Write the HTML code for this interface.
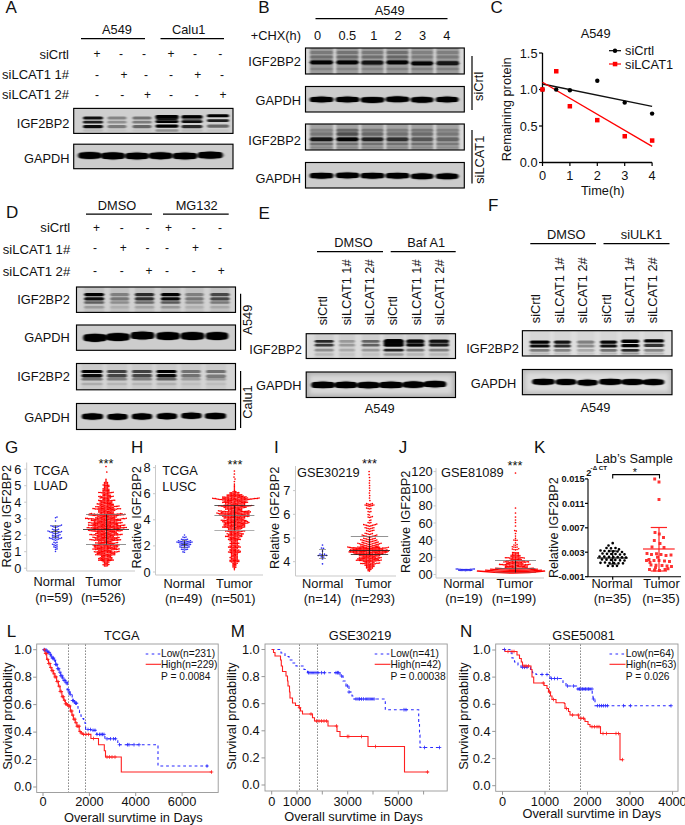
<!DOCTYPE html>
<html lang="en"><head><meta charset="utf-8"><title>Figure</title>
<style>
html,body{margin:0;padding:0;background:#fff;}
body{width:685px;height:825px;overflow:hidden;}
svg{display:block;font-family:"Liberation Sans",Arial,Helvetica,sans-serif;font-size:12.8px;fill:#111;}
</style></head><body>
<svg width="685" height="825" viewBox="0 0 685 825">
<defs>
<filter id="b1" x="-5%" y="-30%" width="110%" height="160%"><feGaussianBlur stdDeviation="1.2 0.72"/></filter>
<filter id="b2" x="-5%" y="-30%" width="110%" height="160%"><feGaussianBlur stdDeviation="2.2"/></filter>
</defs>
<rect width="685" height="825" fill="#fff"/>
<text x="5.5" y="13" font-size="17">A</text>
<text x="258.2" y="13" font-size="17">B</text>
<text x="490.5" y="13" font-size="17">C</text>
<text x="6" y="218.3" font-size="17">D</text>
<text x="258.4" y="218.7" font-size="17">E</text>
<text x="488" y="211" font-size="17">F</text>
<text x="5" y="453" font-size="17">G</text>
<text x="131" y="452.5" font-size="17">H</text>
<text x="274" y="452.5" font-size="17">I</text>
<text x="398.7" y="452.5" font-size="17">J</text>
<text x="534" y="452.5" font-size="17">K</text>
<text x="6.7" y="636.5" font-size="17">L</text>
<text x="230.7" y="636.5" font-size="17">M</text>
<text x="460" y="636.5" font-size="17">N</text>
<text x="117" y="34" text-anchor="middle">A549</text>
<text x="188.7" y="34" text-anchor="middle">Calu1</text>
<line x1="81" y1="38.7" x2="145" y2="38.7" stroke="#000" stroke-width="1.2"/>
<line x1="160.5" y1="38.7" x2="224" y2="38.7" stroke="#000" stroke-width="1.2"/>
<text x="69" y="59" text-anchor="end" font-size="13">siCrtl</text>
<text x="69" y="79" text-anchor="end" font-size="13">siLCAT1 1#</text>
<text x="69" y="99" text-anchor="end" font-size="13">siLCAT1 2#</text>
<text x="97" y="58.4" text-anchor="middle" font-size="12">+</text>
<text x="121.1" y="58.4" text-anchor="middle" font-size="12">-</text>
<text x="144.1" y="58.4" text-anchor="middle" font-size="12">-</text>
<text x="171" y="58.4" text-anchor="middle" font-size="12">+</text>
<text x="195.1" y="58.4" text-anchor="middle" font-size="12">-</text>
<text x="220.3" y="58.4" text-anchor="middle" font-size="12">-</text>
<text x="97" y="78.8" text-anchor="middle" font-size="12">-</text>
<text x="124" y="78.8" text-anchor="middle" font-size="12">+</text>
<text x="145.9" y="78.8" text-anchor="middle" font-size="12">-</text>
<text x="171" y="78.8" text-anchor="middle" font-size="12">-</text>
<text x="197.8" y="78.8" text-anchor="middle" font-size="12">+</text>
<text x="221.9" y="78.8" text-anchor="middle" font-size="12">-</text>
<text x="97" y="98.6" text-anchor="middle" font-size="12">-</text>
<text x="122.2" y="98.6" text-anchor="middle" font-size="12">-</text>
<text x="147.4" y="98.6" text-anchor="middle" font-size="12">+</text>
<text x="171" y="98.6" text-anchor="middle" font-size="12">-</text>
<text x="196.7" y="98.6" text-anchor="middle" font-size="12">-</text>
<text x="223" y="98.6" text-anchor="middle" font-size="12">+</text>
<text x="69.5" y="128" text-anchor="end">IGF2BP2</text>
<text x="69.5" y="163" text-anchor="end">GAPDH</text>
<clipPath id="c1"><rect x="73.7" y="108.4" width="159.3" height="25"/></clipPath>
<rect x="73.7" y="108.4" width="159.3" height="25" fill="#cfcfcf"/>
<g clip-path="url(#c1)">
<g filter="url(#b1)">
<rect x="83" y="116.5" width="20" height="3" rx="1.5" fill="#000" opacity="0.92"/>
<rect x="107.5" y="116.5" width="19" height="3" rx="1.5" fill="#000" opacity="0.36"/>
<rect x="132.5" y="116.5" width="19" height="3" rx="1.5" fill="#000" opacity="0.45"/>
<rect x="155.5" y="115" width="23" height="3" rx="1.5" fill="#000" opacity="1.00"/>
<rect x="181.5" y="115.3" width="21" height="3" rx="1.5" fill="#000" opacity="1.00"/>
<rect x="207" y="114.3" width="22" height="3" rx="1.5" fill="#000" opacity="1.00"/>
<rect x="83" y="120.8" width="20" height="2.7" rx="1.4" fill="#000" opacity="0.85"/>
<rect x="107.5" y="120.8" width="19" height="2.7" rx="1.4" fill="#000" opacity="0.30"/>
<rect x="132.5" y="120.8" width="19" height="2.7" rx="1.4" fill="#000" opacity="0.40"/>
<rect x="155.5" y="120.2" width="23" height="2.7" rx="1.4" fill="#000" opacity="1.00"/>
<rect x="181.5" y="120.2" width="21" height="2.7" rx="1.4" fill="#000" opacity="0.95"/>
<rect x="207" y="119.2" width="22" height="2.7" rx="1.4" fill="#000" opacity="0.85"/>
<rect x="83" y="125" width="20" height="3.2" rx="1.6" fill="#000" opacity="0.95"/>
<rect x="107.5" y="125" width="19" height="3.2" rx="1.6" fill="#000" opacity="0.40"/>
<rect x="132.5" y="125" width="19" height="3.2" rx="1.6" fill="#000" opacity="0.50"/>
<rect x="155.5" y="124.5" width="23" height="3.2" rx="1.6" fill="#000" opacity="1.00"/>
<rect x="181.5" y="125" width="21" height="3.2" rx="1.6" fill="#000" opacity="0.80"/>
<rect x="207" y="124.5" width="22" height="3.2" rx="1.6" fill="#000" opacity="0.50"/>
<rect x="155.5" y="115" width="23" height="5" rx="2.5" fill="#000" opacity="0.90"/>
<rect x="181.5" y="115" width="21" height="5" rx="2.5" fill="#000" opacity="0.50"/>
<rect x="83" y="129.2" width="20" height="2.5" rx="1.2" fill="#000" opacity="0.10"/>
<rect x="107.5" y="129.2" width="19" height="2.5" rx="1.2" fill="#000" opacity="0.05"/>
<rect x="132.5" y="129.2" width="19" height="2.5" rx="1.2" fill="#000" opacity="0.05"/>
<rect x="155.5" y="129.2" width="23" height="2.5" rx="1.2" fill="#000" opacity="0.30"/>
<rect x="181.5" y="129.2" width="21" height="2.5" rx="1.2" fill="#000" opacity="0.10"/>
<rect x="207" y="129.2" width="22" height="2.5" rx="1.2" fill="#000" opacity="0.05"/>
</g></g>
<rect x="73.7" y="108.4" width="159.3" height="25" fill="none" stroke="#000" stroke-width="1.15"/>
<clipPath id="c2"><rect x="73.7" y="144.2" width="159.3" height="24.5"/></clipPath>
<rect x="73.7" y="144.2" width="159.3" height="24.5" fill="#cdcdcd"/>
<g clip-path="url(#c2)">
<g filter="url(#b1)">
<rect x="78.4" y="152.4" width="22.9" height="6.1" rx="3" fill="#000" opacity="1.00"/>
<rect x="101.4" y="152.8" width="23.3" height="6.1" rx="3" fill="#000" opacity="1.00"/>
<rect x="125.4" y="152.9" width="23.3" height="6.1" rx="3" fill="#000" opacity="1.00"/>
<rect x="149" y="152.7" width="23.3" height="6.1" rx="3" fill="#000" opacity="1.00"/>
<rect x="172.9" y="152.9" width="24.2" height="6.1" rx="3" fill="#000" opacity="1.00"/>
<rect x="197.9" y="152.1" width="24.7" height="6.1" rx="3" fill="#000" opacity="1.00"/>
<ellipse cx="89.8" cy="155.5" rx="10.6" ry="3.6" fill="#000" opacity="1.00"/>
<ellipse cx="113" cy="155.9" rx="10.8" ry="3.6" fill="#000" opacity="1.00"/>
<ellipse cx="137" cy="156" rx="10.8" ry="3.6" fill="#000" opacity="1.00"/>
<ellipse cx="160.6" cy="155.8" rx="10.8" ry="3.6" fill="#000" opacity="1.00"/>
<ellipse cx="185" cy="156" rx="11.2" ry="3.6" fill="#000" opacity="1.00"/>
<ellipse cx="210.3" cy="155.2" rx="11.4" ry="3.6" fill="#000" opacity="1.00"/>
<ellipse cx="89.8" cy="155.5" rx="13.2" ry="4.5" fill="#000" opacity="0.20"/>
<ellipse cx="113" cy="155.9" rx="13.4" ry="4.5" fill="#000" opacity="0.20"/>
<ellipse cx="137" cy="156" rx="13.4" ry="4.5" fill="#000" opacity="0.20"/>
<ellipse cx="160.6" cy="155.8" rx="13.4" ry="4.5" fill="#000" opacity="0.20"/>
<ellipse cx="185" cy="156" rx="14" ry="4.5" fill="#000" opacity="0.20"/>
<ellipse cx="210.3" cy="155.2" rx="14.3" ry="4.5" fill="#000" opacity="0.20"/>
</g></g>
<rect x="73.7" y="144.2" width="159.3" height="24.5" fill="none" stroke="#000" stroke-width="1.15"/>
<text x="389.7" y="15" text-anchor="middle">A549</text>
<line x1="315.5" y1="18.7" x2="447.5" y2="18.7" stroke="#000" stroke-width="1.2"/>
<text x="301" y="39.5" text-anchor="end">+CHX(h)</text>
<text x="317.5" y="39.5" text-anchor="middle">0</text>
<text x="347.3" y="39.5" text-anchor="middle">0.5</text>
<text x="373.7" y="39.5" text-anchor="middle">1</text>
<text x="398" y="39.5" text-anchor="middle">2</text>
<text x="422.5" y="39.5" text-anchor="middle">3</text>
<text x="446.7" y="39.5" text-anchor="middle">4</text>
<text x="301" y="66" text-anchor="end">IGF2BP2</text>
<text x="301" y="105" text-anchor="end">GAPDH</text>
<text x="301" y="144.5" text-anchor="end">IGF2BP2</text>
<text x="301" y="183" text-anchor="end">GAPDH</text>
<clipPath id="c3"><rect x="305.5" y="48" width="158.8" height="26"/></clipPath>
<rect x="305.5" y="48" width="158.8" height="26" fill="#d9d9d9"/>
<g clip-path="url(#c3)">
<g filter="url(#b1)">
<rect x="309.8" y="46" width="23.5" height="30" fill="#808080" opacity="0.7"/>
<rect x="336.2" y="46" width="22.5" height="30" fill="#808080" opacity="0.7"/>
<rect x="361.2" y="46" width="22.5" height="30" fill="#808080" opacity="0.7"/>
<rect x="386.2" y="46" width="22.5" height="30" fill="#808080" opacity="0.7"/>
<rect x="410.9" y="46" width="22.5" height="30" fill="#808080" opacity="0.7"/>
<rect x="436.2" y="46" width="23" height="30" fill="#808080" opacity="0.7"/>
<rect x="309.8" y="51.1" width="23.5" height="3" rx="1.5" fill="#000" opacity="0.22"/>
<rect x="336.2" y="51.1" width="22.5" height="3" rx="1.5" fill="#000" opacity="0.25"/>
<rect x="361.2" y="51.1" width="22.5" height="3" rx="1.5" fill="#000" opacity="0.22"/>
<rect x="386.2" y="51.1" width="22.5" height="3" rx="1.5" fill="#000" opacity="0.27"/>
<rect x="410.9" y="51.1" width="22.5" height="3" rx="1.5" fill="#000" opacity="0.16"/>
<rect x="436.2" y="51.1" width="23" height="3" rx="1.5" fill="#000" opacity="0.18"/>
<rect x="309.8" y="55.4" width="23.5" height="3.2" rx="1.6" fill="#000" opacity="0.28"/>
<rect x="336.2" y="55.4" width="22.5" height="3.2" rx="1.6" fill="#000" opacity="0.32"/>
<rect x="361.2" y="55.4" width="22.5" height="3.2" rx="1.6" fill="#000" opacity="0.28"/>
<rect x="386.2" y="55.4" width="22.5" height="3.2" rx="1.6" fill="#000" opacity="0.34"/>
<rect x="410.9" y="55.4" width="22.5" height="3.2" rx="1.6" fill="#000" opacity="0.20"/>
<rect x="436.2" y="55.4" width="23" height="3.2" rx="1.6" fill="#000" opacity="0.22"/>
<rect x="309.8" y="60.5" width="23.5" height="3.7" rx="1.9" fill="#000" opacity="0.90"/>
<rect x="336.2" y="60.5" width="22.5" height="3.7" rx="1.9" fill="#000" opacity="0.95"/>
<rect x="361.2" y="60.8" width="22.5" height="3.7" rx="1.9" fill="#000" opacity="0.85"/>
<rect x="386.2" y="60.5" width="22.5" height="3.7" rx="1.9" fill="#000" opacity="0.95"/>
<rect x="410.9" y="61.5" width="22.5" height="3.7" rx="1.9" fill="#000" opacity="0.90"/>
<rect x="436.2" y="61.3" width="23" height="3.7" rx="1.9" fill="#000" opacity="0.80"/>
<rect x="309.8" y="59.6" width="23.5" height="5.5" rx="2.8" fill="#000" opacity="0.30"/>
<rect x="336.2" y="59.6" width="22.5" height="5.5" rx="2.8" fill="#000" opacity="0.30"/>
<rect x="361.2" y="59.9" width="22.5" height="5.5" rx="2.8" fill="#000" opacity="0.30"/>
<rect x="386.2" y="59.6" width="22.5" height="5.5" rx="2.8" fill="#000" opacity="0.30"/>
<rect x="410.9" y="60.6" width="22.5" height="5.5" rx="2.8" fill="#000" opacity="0.30"/>
<rect x="436.2" y="60.4" width="23" height="5.5" rx="2.8" fill="#000" opacity="0.30"/>
<rect x="309.8" y="67.8" width="23.5" height="2.5" rx="1.2" fill="#000" opacity="0.14"/>
<rect x="336.2" y="67.8" width="22.5" height="2.5" rx="1.2" fill="#000" opacity="0.14"/>
<rect x="361.2" y="67.8" width="22.5" height="2.5" rx="1.2" fill="#000" opacity="0.14"/>
<rect x="386.2" y="67.8" width="22.5" height="2.5" rx="1.2" fill="#000" opacity="0.17"/>
<rect x="410.9" y="67.8" width="22.5" height="2.5" rx="1.2" fill="#000" opacity="0.17"/>
<rect x="436.2" y="67.8" width="23" height="2.5" rx="1.2" fill="#000" opacity="0.17"/>
</g></g>
<rect x="305.5" y="48" width="158.8" height="26" fill="none" stroke="#000" stroke-width="1.15"/>
<clipPath id="c4"><rect x="305.5" y="86.5" width="158.8" height="25.5"/></clipPath>
<rect x="305.5" y="86.5" width="158.8" height="25.5" fill="#cccccc"/>
<g clip-path="url(#c4)">
<g filter="url(#b1)">
<rect x="309.9" y="96.9" width="23.3" height="5.1" rx="2.6" fill="#000" opacity="1.00"/>
<rect x="335.9" y="96.9" width="23.3" height="5.1" rx="2.6" fill="#000" opacity="1.00"/>
<rect x="360.9" y="97.3" width="23.3" height="5.1" rx="2.6" fill="#000" opacity="1.00"/>
<rect x="385.9" y="96.7" width="23.3" height="5.1" rx="2.6" fill="#000" opacity="1.00"/>
<rect x="411" y="97.2" width="22.3" height="5.1" rx="2.6" fill="#000" opacity="1.00"/>
<rect x="436" y="96.9" width="22.3" height="5.1" rx="2.6" fill="#000" opacity="1.00"/>
<ellipse cx="321.5" cy="99.5" rx="10.6" ry="3" fill="#000" opacity="1.00"/>
<ellipse cx="347.5" cy="99.5" rx="10.6" ry="3" fill="#000" opacity="1.00"/>
<ellipse cx="372.5" cy="99.9" rx="10.6" ry="3" fill="#000" opacity="1.00"/>
<ellipse cx="397.5" cy="99.3" rx="10.6" ry="3" fill="#000" opacity="1.00"/>
<ellipse cx="422.2" cy="99.8" rx="10.1" ry="3" fill="#000" opacity="1.00"/>
<ellipse cx="447.2" cy="99.5" rx="10.1" ry="3" fill="#000" opacity="1.00"/>
<ellipse cx="321.5" cy="99.5" rx="13.2" ry="4" fill="#000" opacity="0.20"/>
<ellipse cx="347.5" cy="99.5" rx="13.2" ry="4" fill="#000" opacity="0.20"/>
<ellipse cx="372.5" cy="99.9" rx="13.2" ry="4" fill="#000" opacity="0.20"/>
<ellipse cx="397.5" cy="99.3" rx="13.2" ry="4" fill="#000" opacity="0.20"/>
<ellipse cx="422.2" cy="99.8" rx="12.7" ry="4" fill="#000" opacity="0.20"/>
<ellipse cx="447.2" cy="99.5" rx="12.7" ry="4" fill="#000" opacity="0.20"/>
</g></g>
<rect x="305.5" y="86.5" width="158.8" height="25.5" fill="none" stroke="#000" stroke-width="1.15"/>
<clipPath id="c5"><rect x="305.5" y="124" width="158.8" height="26"/></clipPath>
<rect x="305.5" y="124" width="158.8" height="26" fill="#d9d9d9"/>
<g clip-path="url(#c5)">
<g filter="url(#b1)">
<rect x="309.8" y="122" width="23.5" height="30" fill="#808080" opacity="0.62"/>
<rect x="336.2" y="122" width="22.5" height="30" fill="#808080" opacity="0.62"/>
<rect x="361.2" y="122" width="22.5" height="30" fill="#808080" opacity="0.62"/>
<rect x="386.2" y="122" width="22.5" height="30" fill="#808080" opacity="0.62"/>
<rect x="410.9" y="122" width="22.5" height="30" fill="#808080" opacity="0.62"/>
<rect x="436.2" y="122" width="23" height="30" fill="#808080" opacity="0.62"/>
<rect x="309.8" y="128.7" width="23.5" height="3" rx="1.5" fill="#000" opacity="0.18"/>
<rect x="336.2" y="128.7" width="22.5" height="3" rx="1.5" fill="#000" opacity="0.36"/>
<rect x="361.2" y="128.7" width="22.5" height="3" rx="1.5" fill="#000" opacity="0.26"/>
<rect x="386.2" y="128.7" width="22.5" height="3" rx="1.5" fill="#000" opacity="0.22"/>
<rect x="410.9" y="128.7" width="22.5" height="3" rx="1.5" fill="#000" opacity="0.26"/>
<rect x="436.2" y="128.7" width="23" height="3" rx="1.5" fill="#000" opacity="0.20"/>
<rect x="309.8" y="132.3" width="23.5" height="3.4" rx="1.7" fill="#000" opacity="0.26"/>
<rect x="336.2" y="132.3" width="22.5" height="3.4" rx="1.7" fill="#000" opacity="0.52"/>
<rect x="361.2" y="132.3" width="22.5" height="3.4" rx="1.7" fill="#000" opacity="0.36"/>
<rect x="386.2" y="132.3" width="22.5" height="3.4" rx="1.7" fill="#000" opacity="0.30"/>
<rect x="410.9" y="132.3" width="22.5" height="3.4" rx="1.7" fill="#000" opacity="0.34"/>
<rect x="436.2" y="132.3" width="23" height="3.4" rx="1.7" fill="#000" opacity="0.26"/>
<rect x="309.8" y="137.6" width="23.5" height="3.4" rx="1.7" fill="#000" opacity="0.85"/>
<rect x="336.2" y="137.6" width="22.5" height="3.4" rx="1.7" fill="#000" opacity="0.97"/>
<rect x="361.2" y="137.6" width="22.5" height="3.4" rx="1.7" fill="#000" opacity="0.70"/>
<rect x="386.2" y="137.6" width="22.5" height="3.4" rx="1.7" fill="#000" opacity="0.62"/>
<rect x="410.9" y="137.6" width="22.5" height="3.4" rx="1.7" fill="#000" opacity="0.40"/>
<rect x="436.2" y="137.6" width="23" height="3.4" rx="1.7" fill="#000" opacity="0.30"/>
<rect x="309.8" y="136.7" width="23.5" height="5.2" rx="2.6" fill="#000" opacity="0.25"/>
<rect x="336.2" y="136.7" width="22.5" height="5.2" rx="2.6" fill="#000" opacity="0.30"/>
<rect x="361.2" y="136.7" width="22.5" height="5.2" rx="2.6" fill="#000" opacity="0.22"/>
<rect x="386.2" y="136.7" width="22.5" height="5.2" rx="2.6" fill="#000" opacity="0.20"/>
<rect x="410.9" y="136.7" width="22.5" height="5.2" rx="2.6" fill="#000" opacity="0.12"/>
<rect x="436.2" y="136.7" width="23" height="5.2" rx="2.6" fill="#000" opacity="0.10"/>
<rect x="309.8" y="142.8" width="23.5" height="2.5" rx="1.2" fill="#000" opacity="0.30"/>
<rect x="336.2" y="142.8" width="22.5" height="2.5" rx="1.2" fill="#000" opacity="0.30"/>
<rect x="361.2" y="142.8" width="22.5" height="2.5" rx="1.2" fill="#000" opacity="0.30"/>
<rect x="386.2" y="142.8" width="22.5" height="2.5" rx="1.2" fill="#000" opacity="0.30"/>
<rect x="410.9" y="142.8" width="22.5" height="2.5" rx="1.2" fill="#000" opacity="0.30"/>
<rect x="436.2" y="142.8" width="23" height="2.5" rx="1.2" fill="#000" opacity="0.25"/>
<rect x="309.8" y="146.5" width="23.5" height="2" rx="1" fill="#000" opacity="0.15"/>
<rect x="336.2" y="146.5" width="22.5" height="2" rx="1" fill="#000" opacity="0.15"/>
<rect x="361.2" y="146.5" width="22.5" height="2" rx="1" fill="#000" opacity="0.15"/>
<rect x="386.2" y="146.5" width="22.5" height="2" rx="1" fill="#000" opacity="0.15"/>
<rect x="410.9" y="146.5" width="22.5" height="2" rx="1" fill="#000" opacity="0.15"/>
<rect x="436.2" y="146.5" width="23" height="2" rx="1" fill="#000" opacity="0.12"/>
</g></g>
<rect x="305.5" y="124" width="158.8" height="26" fill="none" stroke="#000" stroke-width="1.15"/>
<clipPath id="c6"><rect x="305.5" y="162.5" width="158.8" height="25.5"/></clipPath>
<rect x="305.5" y="162.5" width="158.8" height="25.5" fill="#cccccc"/>
<g clip-path="url(#c6)">
<g filter="url(#b1)">
<rect x="309.9" y="173.1" width="23.3" height="5.1" rx="2.6" fill="#000" opacity="1.00"/>
<rect x="335.9" y="172.8" width="23.3" height="5.1" rx="2.6" fill="#000" opacity="1.00"/>
<rect x="360.9" y="173.1" width="23.3" height="5.1" rx="2.6" fill="#000" opacity="1.00"/>
<rect x="385.9" y="173.1" width="23.3" height="5.1" rx="2.6" fill="#000" opacity="1.00"/>
<rect x="411" y="173.7" width="22.3" height="5.1" rx="2.6" fill="#000" opacity="1.00"/>
<rect x="436" y="173.7" width="22.3" height="5.1" rx="2.6" fill="#000" opacity="1.00"/>
<ellipse cx="321.5" cy="175.7" rx="10.6" ry="3" fill="#000" opacity="1.00"/>
<ellipse cx="347.5" cy="175.4" rx="10.6" ry="3" fill="#000" opacity="1.00"/>
<ellipse cx="372.5" cy="175.7" rx="10.6" ry="3" fill="#000" opacity="1.00"/>
<ellipse cx="397.5" cy="175.7" rx="10.6" ry="3" fill="#000" opacity="1.00"/>
<ellipse cx="422.2" cy="176.3" rx="10.1" ry="3" fill="#000" opacity="1.00"/>
<ellipse cx="447.2" cy="176.3" rx="10.1" ry="3" fill="#000" opacity="1.00"/>
<ellipse cx="321.5" cy="175.7" rx="13.2" ry="4" fill="#000" opacity="0.20"/>
<ellipse cx="347.5" cy="175.4" rx="13.2" ry="4" fill="#000" opacity="0.20"/>
<ellipse cx="372.5" cy="175.7" rx="13.2" ry="4" fill="#000" opacity="0.20"/>
<ellipse cx="397.5" cy="175.7" rx="13.2" ry="4" fill="#000" opacity="0.20"/>
<ellipse cx="422.2" cy="176.3" rx="12.7" ry="4" fill="#000" opacity="0.20"/>
<ellipse cx="447.2" cy="176.3" rx="12.7" ry="4" fill="#000" opacity="0.20"/>
</g></g>
<rect x="305.5" y="162.5" width="158.8" height="25.5" fill="none" stroke="#000" stroke-width="1.15"/>
<line x1="472" y1="56" x2="472" y2="110" stroke="#000" stroke-width="1.2"/>
<line x1="472" y1="130" x2="472" y2="183.5" stroke="#000" stroke-width="1.2"/>
<text transform="translate(483.3 86.3) rotate(-90)" text-anchor="middle">siCrtl</text>
<text transform="translate(483.6 159.8) rotate(-90)" text-anchor="middle">siLCAT1</text>
<text x="595.6" y="37.9" text-anchor="middle">A549</text>
<path d="M542.5 53V162.5H652.1" stroke="#000" stroke-width="1.3" fill="none"/>
<line x1="539" y1="162.5" x2="542.5" y2="162.5" stroke="#000" stroke-width="1.2"/>
<text x="537.5" y="167" text-anchor="end">0.0</text>
<line x1="539" y1="126" x2="542.5" y2="126" stroke="#000" stroke-width="1.2"/>
<text x="537.5" y="130.5" text-anchor="end">0.5</text>
<line x1="539" y1="89.5" x2="542.5" y2="89.5" stroke="#000" stroke-width="1.2"/>
<text x="537.5" y="94" text-anchor="end">1.0</text>
<line x1="539" y1="53" x2="542.5" y2="53" stroke="#000" stroke-width="1.2"/>
<text x="537.5" y="57.5" text-anchor="end">1.5</text>
<line x1="542.5" y1="162.5" x2="542.5" y2="166" stroke="#000" stroke-width="1.2"/>
<text x="542.5" y="179.5" text-anchor="middle">0</text>
<line x1="569.9" y1="162.5" x2="569.9" y2="166" stroke="#000" stroke-width="1.2"/>
<text x="569.9" y="179.5" text-anchor="middle">1</text>
<line x1="597.3" y1="162.5" x2="597.3" y2="166" stroke="#000" stroke-width="1.2"/>
<text x="597.3" y="179.5" text-anchor="middle">2</text>
<line x1="624.7" y1="162.5" x2="624.7" y2="166" stroke="#000" stroke-width="1.2"/>
<text x="624.7" y="179.5" text-anchor="middle">3</text>
<line x1="652.1" y1="162.5" x2="652.1" y2="166" stroke="#000" stroke-width="1.2"/>
<text x="652.1" y="179.5" text-anchor="middle">4</text>
<text x="602.8" y="195" text-anchor="middle">Time(h)</text>
<text transform="translate(511 109.3) rotate(-90)" text-anchor="middle">Remaining protein</text>
<line x1="542.5" y1="84" x2="652.1" y2="106.3" stroke="#111" stroke-width="1.3"/>
<line x1="542.5" y1="82.2" x2="652.1" y2="146.4" stroke="#f00" stroke-width="1.3"/>
<circle cx="542.5" cy="89.5" r="2.2" fill="#000"/>
<circle cx="556.2" cy="89.5" r="2.2" fill="#000"/>
<circle cx="569.9" cy="90.2" r="2.2" fill="#000"/>
<circle cx="597.3" cy="80.7" r="2.2" fill="#000"/>
<circle cx="624.7" cy="102.6" r="2.2" fill="#000"/>
<circle cx="652.1" cy="113.6" r="2.2" fill="#000"/>
<rect x="540.2" y="87.2" width="4.5" height="4.5" fill="#f00"/>
<rect x="554" y="69" width="4.5" height="4.5" fill="#f00"/>
<rect x="567.6" y="104" width="4.5" height="4.5" fill="#f00"/>
<rect x="595" y="117.9" width="4.5" height="4.5" fill="#f00"/>
<rect x="622.5" y="134" width="4.5" height="4.5" fill="#f00"/>
<rect x="649.9" y="138.3" width="4.5" height="4.5" fill="#f00"/>
<line x1="609" y1="50.7" x2="621" y2="50.7" stroke="#000" stroke-width="1.2"/>
<circle cx="615" cy="50.7" r="2.2" fill="#000"/>
<text x="625" y="54.5">siCrtl</text>
<line x1="609" y1="64" x2="621" y2="64" stroke="#f00" stroke-width="1.2"/>
<rect x="612.8" y="61.8" width="4.5" height="4.5" fill="#f00"/>
<text x="625" y="68.8">siLCAT1</text>
<text x="117" y="210" text-anchor="middle">DMSO</text>
<text x="196.7" y="210.3" text-anchor="middle">MG132</text>
<line x1="86" y1="214.2" x2="152" y2="214.2" stroke="#000" stroke-width="1.2"/>
<line x1="163" y1="214.2" x2="228.7" y2="214.2" stroke="#000" stroke-width="1.2"/>
<text x="70.2" y="232" text-anchor="end" font-size="13.1">siCrtl</text>
<text x="70.2" y="253.5" text-anchor="end" font-size="13.1">siLCAT1 1#</text>
<text x="70.2" y="275.7" text-anchor="end" font-size="13.1">siLCAT1 2#</text>
<text x="96.4" y="231.9" text-anchor="middle" font-size="12">+</text>
<text x="121.8" y="231.9" text-anchor="middle" font-size="12">-</text>
<text x="147.4" y="231.9" text-anchor="middle" font-size="12">-</text>
<text x="168.6" y="231.9" text-anchor="middle" font-size="12">+</text>
<text x="193.8" y="231.9" text-anchor="middle" font-size="12">-</text>
<text x="220.1" y="231.9" text-anchor="middle" font-size="12">-</text>
<text x="94.9" y="251.5" text-anchor="middle" font-size="12">-</text>
<text x="123.3" y="251.5" text-anchor="middle" font-size="12">+</text>
<text x="147.4" y="251.5" text-anchor="middle" font-size="12">-</text>
<text x="167.1" y="251.5" text-anchor="middle" font-size="12">-</text>
<text x="195.6" y="251.5" text-anchor="middle" font-size="12">+</text>
<text x="220.1" y="251.5" text-anchor="middle" font-size="12">-</text>
<text x="94.9" y="275" text-anchor="middle" font-size="12">-</text>
<text x="121.8" y="275" text-anchor="middle" font-size="12">-</text>
<text x="148.9" y="275" text-anchor="middle" font-size="12">+</text>
<text x="167.1" y="275" text-anchor="middle" font-size="12">-</text>
<text x="193.8" y="275" text-anchor="middle" font-size="12">-</text>
<text x="221.2" y="275" text-anchor="middle" font-size="12">+</text>
<text x="69.8" y="304" text-anchor="end">IGF2BP2</text>
<text x="69.8" y="342" text-anchor="end">GAPDH</text>
<text x="69.8" y="381" text-anchor="end">IGF2BP2</text>
<text x="69.8" y="422" text-anchor="end">GAPDH</text>
<clipPath id="c7"><rect x="76.5" y="287" width="159" height="25.4"/></clipPath>
<rect x="76.5" y="287" width="159" height="25.4" fill="#d2d2d2"/>
<g clip-path="url(#c7)">
<g filter="url(#b1)">
<rect x="84.2" y="285" width="20" height="29.4" fill="#9a9a9a" opacity="0.28"/>
<rect x="110.2" y="285" width="19" height="29.4" fill="#9a9a9a" opacity="0.28"/>
<rect x="134.8" y="285" width="19.5" height="29.4" fill="#9a9a9a" opacity="0.28"/>
<rect x="160.8" y="285" width="19.5" height="29.4" fill="#9a9a9a" opacity="0.28"/>
<rect x="185.2" y="285" width="18.5" height="29.4" fill="#9a9a9a" opacity="0.28"/>
<rect x="210.2" y="285" width="19.5" height="29.4" fill="#9a9a9a" opacity="0.28"/>
<rect x="84.2" y="292.9" width="20" height="3.4" rx="1.7" fill="#000" opacity="1.00"/>
<rect x="110.2" y="292.9" width="19" height="3.4" rx="1.7" fill="#000" opacity="0.35"/>
<rect x="134.8" y="292.9" width="19.5" height="3.4" rx="1.7" fill="#000" opacity="0.80"/>
<rect x="160.8" y="292.9" width="19.5" height="3.4" rx="1.7" fill="#000" opacity="1.00"/>
<rect x="185.2" y="292.9" width="18.5" height="3.4" rx="1.7" fill="#000" opacity="0.35"/>
<rect x="210.2" y="292.9" width="19.5" height="3.4" rx="1.7" fill="#000" opacity="0.62"/>
<rect x="84.2" y="297.2" width="20" height="3.2" rx="1.6" fill="#000" opacity="0.90"/>
<rect x="110.2" y="297.2" width="19" height="3.2" rx="1.6" fill="#000" opacity="0.40"/>
<rect x="134.8" y="297.2" width="19.5" height="3.2" rx="1.6" fill="#000" opacity="0.78"/>
<rect x="160.8" y="297.2" width="19.5" height="3.2" rx="1.6" fill="#000" opacity="0.95"/>
<rect x="185.2" y="297.2" width="18.5" height="3.2" rx="1.6" fill="#000" opacity="0.40"/>
<rect x="210.2" y="297.2" width="19.5" height="3.2" rx="1.6" fill="#000" opacity="0.62"/>
<rect x="84.2" y="301.2" width="20" height="2.6" rx="1.3" fill="#000" opacity="0.50"/>
<rect x="110.2" y="301.2" width="19" height="2.6" rx="1.3" fill="#000" opacity="0.28"/>
<rect x="134.8" y="301.2" width="19.5" height="2.6" rx="1.3" fill="#000" opacity="0.45"/>
<rect x="160.8" y="301.2" width="19.5" height="2.6" rx="1.3" fill="#000" opacity="0.55"/>
<rect x="185.2" y="301.2" width="18.5" height="2.6" rx="1.3" fill="#000" opacity="0.28"/>
<rect x="210.2" y="301.2" width="19.5" height="2.6" rx="1.3" fill="#000" opacity="0.38"/>
<rect x="84.2" y="306" width="20" height="2.6" rx="1.3" fill="#000" opacity="0.20"/>
<rect x="110.2" y="306" width="19" height="2.6" rx="1.3" fill="#000" opacity="0.10"/>
<rect x="134.8" y="306" width="19.5" height="2.6" rx="1.3" fill="#000" opacity="0.16"/>
<rect x="160.8" y="306" width="19.5" height="2.6" rx="1.3" fill="#000" opacity="0.22"/>
<rect x="185.2" y="306" width="18.5" height="2.6" rx="1.3" fill="#000" opacity="0.10"/>
<rect x="210.2" y="306" width="19.5" height="2.6" rx="1.3" fill="#000" opacity="0.13"/>
</g></g>
<rect x="76.5" y="287" width="159" height="25.4" fill="none" stroke="#000" stroke-width="1.15"/>
<clipPath id="c8"><rect x="76.5" y="325" width="159" height="25.3"/></clipPath>
<rect x="76.5" y="325" width="159" height="25.3" fill="#cdcdcd"/>
<g clip-path="url(#c8)">
<g filter="url(#b1)">
<rect x="83.4" y="334.3" width="23.3" height="7" rx="3" fill="#000" opacity="1.00"/>
<rect x="106.4" y="333.5" width="23.3" height="7" rx="3" fill="#000" opacity="1.00"/>
<rect x="130.9" y="332" width="23.3" height="7" rx="3" fill="#000" opacity="1.00"/>
<rect x="156.4" y="332.5" width="23.3" height="7" rx="3" fill="#000" opacity="1.00"/>
<rect x="180.9" y="332.5" width="23.3" height="7" rx="3" fill="#000" opacity="1.00"/>
<rect x="205.8" y="332.5" width="22.3" height="7" rx="3" fill="#000" opacity="1.00"/>
<ellipse cx="95" cy="337.8" rx="10.2" ry="4.1" fill="#000" opacity="1.00"/>
<ellipse cx="118" cy="337" rx="10.2" ry="4.1" fill="#000" opacity="1.00"/>
<ellipse cx="142.5" cy="335.5" rx="10.2" ry="4.1" fill="#000" opacity="1.00"/>
<ellipse cx="168" cy="336" rx="10.2" ry="4.1" fill="#000" opacity="1.00"/>
<ellipse cx="192.5" cy="336" rx="10.2" ry="4.1" fill="#000" opacity="1.00"/>
<ellipse cx="217" cy="336" rx="9.8" ry="4.1" fill="#000" opacity="1.00"/>
<ellipse cx="95" cy="337.8" rx="12.7" ry="5" fill="#000" opacity="0.20"/>
<ellipse cx="118" cy="337" rx="12.7" ry="5" fill="#000" opacity="0.20"/>
<ellipse cx="142.5" cy="335.5" rx="12.7" ry="5" fill="#000" opacity="0.20"/>
<ellipse cx="168" cy="336" rx="12.7" ry="5" fill="#000" opacity="0.20"/>
<ellipse cx="192.5" cy="336" rx="12.7" ry="5" fill="#000" opacity="0.20"/>
<ellipse cx="217" cy="336" rx="12.2" ry="5" fill="#000" opacity="0.20"/>
</g></g>
<rect x="76.5" y="325" width="159" height="25.3" fill="none" stroke="#000" stroke-width="1.15"/>
<clipPath id="c9"><rect x="76.5" y="363.5" width="159" height="26.3"/></clipPath>
<rect x="76.5" y="363.5" width="159" height="26.3" fill="#d4d4d4"/>
<g clip-path="url(#c9)">
<g filter="url(#b1)">
<rect x="81.5" y="361.5" width="21" height="30.3" fill="#9a9a9a" opacity="0.18"/>
<rect x="107" y="361.5" width="20" height="30.3" fill="#9a9a9a" opacity="0.18"/>
<rect x="132" y="361.5" width="20" height="30.3" fill="#9a9a9a" opacity="0.18"/>
<rect x="156.5" y="361.5" width="20" height="30.3" fill="#9a9a9a" opacity="0.18"/>
<rect x="181.2" y="361.5" width="19.5" height="30.3" fill="#9a9a9a" opacity="0.18"/>
<rect x="206" y="361.5" width="20" height="30.3" fill="#9a9a9a" opacity="0.18"/>
<rect x="81.5" y="370" width="21" height="3" rx="1.5" fill="#000" opacity="1.00"/>
<rect x="107" y="370" width="20" height="3" rx="1.5" fill="#000" opacity="0.70"/>
<rect x="132" y="370" width="20" height="3" rx="1.5" fill="#000" opacity="0.70"/>
<rect x="156.5" y="370" width="20" height="3" rx="1.5" fill="#000" opacity="1.00"/>
<rect x="181.2" y="370" width="19.5" height="3" rx="1.5" fill="#000" opacity="0.45"/>
<rect x="206" y="370" width="20" height="3" rx="1.5" fill="#000" opacity="0.45"/>
<rect x="81.5" y="374" width="21" height="3.4" rx="1.7" fill="#000" opacity="0.95"/>
<rect x="107" y="374" width="20" height="3.4" rx="1.7" fill="#000" opacity="0.68"/>
<rect x="132" y="374" width="20" height="3.4" rx="1.7" fill="#000" opacity="0.68"/>
<rect x="156.5" y="374" width="20" height="3.4" rx="1.7" fill="#000" opacity="0.95"/>
<rect x="181.2" y="374" width="19.5" height="3.4" rx="1.7" fill="#000" opacity="0.45"/>
<rect x="206" y="374.5" width="20" height="3.4" rx="1.7" fill="#000" opacity="0.40"/>
<rect x="81.5" y="377.9" width="21" height="2.6" rx="1.3" fill="#000" opacity="0.45"/>
<rect x="107" y="377.9" width="20" height="2.6" rx="1.3" fill="#000" opacity="0.35"/>
<rect x="132" y="377.9" width="20" height="2.6" rx="1.3" fill="#000" opacity="0.35"/>
<rect x="156.5" y="377.9" width="20" height="2.6" rx="1.3" fill="#000" opacity="0.50"/>
<rect x="181.2" y="377.9" width="19.5" height="2.6" rx="1.3" fill="#000" opacity="0.22"/>
<rect x="206" y="377.9" width="20" height="2.6" rx="1.3" fill="#000" opacity="0.22"/>
<rect x="81.5" y="382.8" width="21" height="2.4" rx="1.2" fill="#000" opacity="0.15"/>
<rect x="107" y="382.8" width="20" height="2.4" rx="1.2" fill="#000" opacity="0.10"/>
<rect x="132" y="382.8" width="20" height="2.4" rx="1.2" fill="#000" opacity="0.10"/>
<rect x="156.5" y="382.8" width="20" height="2.4" rx="1.2" fill="#000" opacity="0.12"/>
<rect x="181.2" y="382.8" width="19.5" height="2.4" rx="1.2" fill="#000" opacity="0.06"/>
<rect x="206" y="382.8" width="20" height="2.4" rx="1.2" fill="#000" opacity="0.06"/>
</g></g>
<rect x="76.5" y="363.5" width="159" height="26.3" fill="none" stroke="#000" stroke-width="1.15"/>
<clipPath id="c10"><rect x="76.5" y="403.5" width="159" height="26"/></clipPath>
<rect x="76.5" y="403.5" width="159" height="26" fill="#cfcfcf"/>
<g clip-path="url(#c10)">
<g filter="url(#b1)">
<rect x="81.8" y="413.8" width="21.3" height="5.4" rx="2.7" fill="#000" opacity="1.00"/>
<rect x="107.3" y="414.1" width="20.4" height="5.4" rx="2.7" fill="#000" opacity="1.00"/>
<rect x="131.8" y="413.8" width="20.4" height="5.4" rx="2.7" fill="#000" opacity="1.00"/>
<rect x="156.8" y="413.5" width="20.4" height="5.4" rx="2.7" fill="#000" opacity="1.00"/>
<rect x="181.3" y="413" width="20.4" height="5.4" rx="2.7" fill="#000" opacity="1.00"/>
<rect x="204.8" y="413.3" width="21.3" height="5.4" rx="2.7" fill="#000" opacity="1.00"/>
<ellipse cx="92.5" cy="416.5" rx="8.6" ry="3.2" fill="#000" opacity="1.00"/>
<ellipse cx="117.5" cy="416.8" rx="8.2" ry="3.2" fill="#000" opacity="1.00"/>
<ellipse cx="142" cy="416.5" rx="8.2" ry="3.2" fill="#000" opacity="1.00"/>
<ellipse cx="167" cy="416.2" rx="8.2" ry="3.2" fill="#000" opacity="1.00"/>
<ellipse cx="191.5" cy="415.7" rx="8.2" ry="3.2" fill="#000" opacity="1.00"/>
<ellipse cx="215.5" cy="416" rx="8.6" ry="3.2" fill="#000" opacity="1.00"/>
<ellipse cx="92.5" cy="416.5" rx="10.8" ry="4.1" fill="#000" opacity="0.20"/>
<ellipse cx="117.5" cy="416.8" rx="10.3" ry="4.1" fill="#000" opacity="0.20"/>
<ellipse cx="142" cy="416.5" rx="10.3" ry="4.1" fill="#000" opacity="0.20"/>
<ellipse cx="167" cy="416.2" rx="10.3" ry="4.1" fill="#000" opacity="0.20"/>
<ellipse cx="191.5" cy="415.7" rx="10.3" ry="4.1" fill="#000" opacity="0.20"/>
<ellipse cx="215.5" cy="416" rx="10.8" ry="4.1" fill="#000" opacity="0.20"/>
</g></g>
<rect x="76.5" y="403.5" width="159" height="26" fill="none" stroke="#000" stroke-width="1.15"/>
<line x1="240.6" y1="293.7" x2="240.6" y2="350" stroke="#000" stroke-width="1.2"/>
<line x1="240.6" y1="371" x2="240.6" y2="428" stroke="#000" stroke-width="1.2"/>
<text transform="translate(252.3 319.7) rotate(-90)" text-anchor="middle">A549</text>
<text transform="translate(252.3 402) rotate(-90)" text-anchor="middle">Calu1</text>
<text x="353.5" y="247" text-anchor="middle">DMSO</text>
<text x="426.2" y="247" text-anchor="middle">Baf A1</text>
<line x1="317" y1="251.7" x2="383" y2="251.7" stroke="#000" stroke-width="1.2"/>
<line x1="390.7" y1="251.7" x2="455.7" y2="251.7" stroke="#000" stroke-width="1.2"/>
<text transform="translate(327.4 325.3) rotate(-90)">siCrtl</text>
<text transform="translate(350.8 325.3) rotate(-90)">siLCAT1 1#</text>
<text transform="translate(374 325.3) rotate(-90)">siLCAT1 2#</text>
<text transform="translate(397.3 325.3) rotate(-90)">siCrtl</text>
<text transform="translate(420.6 325.3) rotate(-90)">siLCAT1 1#</text>
<text transform="translate(443.9 325.3) rotate(-90)">siLCAT1 2#</text>
<text x="302" y="353.7" text-anchor="end">IGF2BP2</text>
<text x="301.5" y="390" text-anchor="end">GAPDH</text>
<clipPath id="c11"><rect x="306.2" y="333.7" width="149.3" height="24.8"/></clipPath>
<rect x="306.2" y="333.7" width="149.3" height="24.8" fill="#dbdbdb"/>
<g clip-path="url(#c11)">
<g filter="url(#b1)">
<rect x="314.7" y="331.7" width="19" height="28.8" fill="#9a9a9a" opacity="0.2"/>
<rect x="339" y="331.7" width="16" height="28.8" fill="#9a9a9a" opacity="0.2"/>
<rect x="361.7" y="331.7" width="18" height="28.8" fill="#9a9a9a" opacity="0.2"/>
<rect x="383.7" y="331.7" width="20" height="28.8" fill="#9a9a9a" opacity="0.2"/>
<rect x="406.3" y="331.7" width="18" height="28.8" fill="#9a9a9a" opacity="0.2"/>
<rect x="429" y="331.7" width="20" height="28.8" fill="#9a9a9a" opacity="0.2"/>
<rect x="314.7" y="339.9" width="19" height="2.8" rx="1.4" fill="#000" opacity="0.78"/>
<rect x="339" y="339.9" width="16" height="2.8" rx="1.4" fill="#000" opacity="0.26"/>
<rect x="361.7" y="339.9" width="18" height="2.8" rx="1.4" fill="#000" opacity="0.50"/>
<rect x="383.7" y="339.9" width="20" height="2.8" rx="1.4" fill="#000" opacity="1.00"/>
<rect x="406.3" y="339.9" width="18" height="2.8" rx="1.4" fill="#000" opacity="0.90"/>
<rect x="429" y="339.9" width="20" height="2.8" rx="1.4" fill="#000" opacity="0.85"/>
<rect x="314.7" y="343.8" width="19" height="2.8" rx="1.4" fill="#000" opacity="0.75"/>
<rect x="339" y="343.8" width="16" height="2.8" rx="1.4" fill="#000" opacity="0.26"/>
<rect x="361.7" y="343.8" width="18" height="2.8" rx="1.4" fill="#000" opacity="0.52"/>
<rect x="383.7" y="343.8" width="20" height="2.8" rx="1.4" fill="#000" opacity="1.00"/>
<rect x="406.3" y="343.8" width="18" height="2.8" rx="1.4" fill="#000" opacity="0.90"/>
<rect x="429" y="343.8" width="20" height="2.8" rx="1.4" fill="#000" opacity="0.72"/>
<rect x="314.7" y="348.8" width="19" height="2.8" rx="1.4" fill="#000" opacity="0.30"/>
<rect x="339" y="348.8" width="16" height="2.8" rx="1.4" fill="#000" opacity="0.17"/>
<rect x="361.7" y="348.8" width="18" height="2.8" rx="1.4" fill="#000" opacity="0.25"/>
<rect x="383.7" y="348.8" width="20" height="2.8" rx="1.4" fill="#000" opacity="0.80"/>
<rect x="406.3" y="348.8" width="18" height="2.8" rx="1.4" fill="#000" opacity="0.42"/>
<rect x="429" y="348.8" width="20" height="2.8" rx="1.4" fill="#000" opacity="0.38"/>
<rect x="383.7" y="339.1" width="20" height="7.5" rx="3" fill="#000" opacity="0.97"/>
<rect x="406.3" y="339.1" width="18" height="7.5" rx="3" fill="#000" opacity="0.60"/>
<rect x="429" y="339.1" width="20" height="7.5" rx="3" fill="#000" opacity="0.40"/>
<rect x="314.7" y="353.2" width="19" height="2.5" rx="1.2" fill="#000" opacity="0.10"/>
<rect x="339" y="353.2" width="16" height="2.5" rx="1.2" fill="#000" opacity="0.05"/>
<rect x="361.7" y="353.2" width="18" height="2.5" rx="1.2" fill="#000" opacity="0.06"/>
<rect x="383.7" y="353.2" width="20" height="2.5" rx="1.2" fill="#000" opacity="0.25"/>
<rect x="406.3" y="353.2" width="18" height="2.5" rx="1.2" fill="#000" opacity="0.12"/>
<rect x="429" y="353.2" width="20" height="2.5" rx="1.2" fill="#000" opacity="0.10"/>
</g></g>
<rect x="306.2" y="333.7" width="149.3" height="24.8" fill="none" stroke="#000" stroke-width="1.15"/>
<clipPath id="c12"><rect x="306.2" y="372" width="149.3" height="25.5"/></clipPath>
<rect x="306.2" y="372" width="149.3" height="25.5" fill="#d8d8d8"/>
<g clip-path="url(#c12)">
<rect x="306.2" y="372" width="149.3" height="25.5" fill="none" stroke="#b0b0b0" stroke-width="6" filter="url(#b2)"/>
<g filter="url(#b1)">
<rect x="311.4" y="382" width="23.3" height="5.9" rx="2.9" fill="#000" opacity="1.00"/>
<rect x="334.8" y="382" width="22.3" height="5.9" rx="2.9" fill="#000" opacity="1.00"/>
<rect x="357.3" y="382.2" width="22.3" height="5.9" rx="2.9" fill="#000" opacity="1.00"/>
<rect x="379.4" y="382" width="23.3" height="5.9" rx="2.9" fill="#000" opacity="1.00"/>
<rect x="402.8" y="381.7" width="21.3" height="5.9" rx="2.9" fill="#000" opacity="1.00"/>
<rect x="423.8" y="381.2" width="22.3" height="5.9" rx="2.9" fill="#000" opacity="1.00"/>
<ellipse cx="323" cy="384.9" rx="10.4" ry="3.4" fill="#000" opacity="1.00"/>
<ellipse cx="346" cy="384.9" rx="9.9" ry="3.4" fill="#000" opacity="1.00"/>
<ellipse cx="368.5" cy="385.1" rx="9.9" ry="3.4" fill="#000" opacity="1.00"/>
<ellipse cx="391" cy="384.9" rx="10.4" ry="3.4" fill="#000" opacity="1.00"/>
<ellipse cx="413.5" cy="384.6" rx="9.5" ry="3.4" fill="#000" opacity="1.00"/>
<ellipse cx="435" cy="384.1" rx="9.9" ry="3.4" fill="#000" opacity="1.00"/>
<ellipse cx="323" cy="384.9" rx="13" ry="4.3" fill="#000" opacity="0.20"/>
<ellipse cx="346" cy="384.9" rx="12.4" ry="4.3" fill="#000" opacity="0.20"/>
<ellipse cx="368.5" cy="385.1" rx="12.4" ry="4.3" fill="#000" opacity="0.20"/>
<ellipse cx="391" cy="384.9" rx="13" ry="4.3" fill="#000" opacity="0.20"/>
<ellipse cx="413.5" cy="384.6" rx="11.9" ry="4.3" fill="#000" opacity="0.20"/>
<ellipse cx="435" cy="384.1" rx="12.4" ry="4.3" fill="#000" opacity="0.20"/>
</g></g>
<rect x="306.2" y="372" width="149.3" height="25.5" fill="none" stroke="#000" stroke-width="1.15"/>
<text x="379.7" y="413" text-anchor="middle">A549</text>
<text x="566.3" y="239" text-anchor="middle">DMSO</text>
<text x="641.5" y="239" text-anchor="middle">siULK1</text>
<line x1="530.3" y1="243.7" x2="596" y2="243.7" stroke="#000" stroke-width="1.2"/>
<line x1="603.5" y1="243.7" x2="669.5" y2="243.7" stroke="#000" stroke-width="1.2"/>
<text transform="translate(540.3 323.2) rotate(-90)">siCrtl</text>
<text transform="translate(563.8 323.2) rotate(-90)">siLCAT1 1#</text>
<text transform="translate(587.2 323.2) rotate(-90)">siLCAT1 2#</text>
<text transform="translate(610.5 323.2) rotate(-90)">siCrtl</text>
<text transform="translate(633.9 323.2) rotate(-90)">siLCAT1 1#</text>
<text transform="translate(657.2 323.2) rotate(-90)">siLCAT1 2#</text>
<text x="518.8" y="352.5" text-anchor="end">IGF2BP2</text>
<text x="516.3" y="388" text-anchor="end">GAPDH</text>
<clipPath id="c13"><rect x="522.4" y="330.7" width="149.6" height="25.3"/></clipPath>
<rect x="522.4" y="330.7" width="149.6" height="25.3" fill="#dedede"/>
<g clip-path="url(#c13)">
<g filter="url(#b1)">
<rect x="529.8" y="328.7" width="20" height="29.3" fill="#9a9a9a" opacity="0.12"/>
<rect x="553.9" y="328.7" width="17" height="29.3" fill="#9a9a9a" opacity="0.12"/>
<rect x="577" y="328.7" width="17.5" height="29.3" fill="#9a9a9a" opacity="0.12"/>
<rect x="600.1" y="328.7" width="17" height="29.3" fill="#9a9a9a" opacity="0.12"/>
<rect x="621.3" y="328.7" width="18" height="29.3" fill="#9a9a9a" opacity="0.12"/>
<rect x="644" y="328.7" width="20" height="29.3" fill="#9a9a9a" opacity="0.12"/>
<rect x="529.8" y="340.4" width="20" height="3.3" rx="1.6" fill="#000" opacity="1.00"/>
<rect x="553.9" y="340.4" width="17" height="3.3" rx="1.6" fill="#000" opacity="0.90"/>
<rect x="577" y="340.4" width="17.5" height="3.3" rx="1.6" fill="#000" opacity="0.40"/>
<rect x="600.1" y="340.4" width="17" height="3.3" rx="1.6" fill="#000" opacity="0.97"/>
<rect x="621.3" y="339.6" width="18" height="3.3" rx="1.6" fill="#000" opacity="1.00"/>
<rect x="644" y="339.2" width="20" height="3.3" rx="1.6" fill="#000" opacity="1.00"/>
<rect x="529.8" y="344.4" width="20" height="3.1" rx="1.6" fill="#000" opacity="0.95"/>
<rect x="553.9" y="344.4" width="17" height="3.1" rx="1.6" fill="#000" opacity="0.78"/>
<rect x="577" y="344.4" width="17.5" height="3.1" rx="1.6" fill="#000" opacity="0.34"/>
<rect x="600.1" y="344.4" width="17" height="3.1" rx="1.6" fill="#000" opacity="0.92"/>
<rect x="621.3" y="344.1" width="18" height="3.1" rx="1.6" fill="#000" opacity="1.00"/>
<rect x="644" y="343.8" width="20" height="3.1" rx="1.6" fill="#000" opacity="0.75"/>
<rect x="529.8" y="348.9" width="20" height="2.8" rx="1.4" fill="#000" opacity="0.42"/>
<rect x="553.9" y="348.9" width="17" height="2.8" rx="1.4" fill="#000" opacity="0.38"/>
<rect x="577" y="348.9" width="17.5" height="2.8" rx="1.4" fill="#000" opacity="0.20"/>
<rect x="600.1" y="348.9" width="17" height="2.8" rx="1.4" fill="#000" opacity="0.48"/>
<rect x="621.3" y="348.9" width="18" height="2.8" rx="1.4" fill="#000" opacity="0.80"/>
<rect x="644" y="348.9" width="20" height="2.8" rx="1.4" fill="#000" opacity="0.38"/>
<rect x="529.8" y="352.5" width="20" height="2" rx="1" fill="#000" opacity="0.12"/>
<rect x="553.9" y="352.5" width="17" height="2" rx="1" fill="#000" opacity="0.10"/>
<rect x="577" y="352.5" width="17.5" height="2" rx="1" fill="#000" opacity="0.08"/>
<rect x="600.1" y="352.5" width="17" height="2" rx="1" fill="#000" opacity="0.15"/>
<rect x="621.3" y="352.5" width="18" height="2" rx="1" fill="#000" opacity="0.30"/>
<rect x="644" y="352.5" width="20" height="2" rx="1" fill="#000" opacity="0.15"/>
</g></g>
<rect x="522.4" y="330.7" width="149.6" height="25.3" fill="none" stroke="#000" stroke-width="1.15"/>
<clipPath id="c14"><rect x="522.4" y="369.5" width="149.6" height="25.2"/></clipPath>
<rect x="522.4" y="369.5" width="149.6" height="25.2" fill="#dcdcdc"/>
<g clip-path="url(#c14)">
<rect x="522.4" y="369.5" width="149.6" height="25.2" fill="none" stroke="#bcbcbc" stroke-width="6" filter="url(#b2)"/>
<g filter="url(#b1)">
<rect x="532.3" y="379.1" width="22.3" height="5.3" rx="2.7" fill="#000" opacity="1.00"/>
<rect x="555.8" y="379.3" width="20.4" height="5.3" rx="2.7" fill="#000" opacity="1.00"/>
<rect x="577.3" y="379.9" width="20.4" height="5.3" rx="2.7" fill="#000" opacity="1.00"/>
<rect x="599.3" y="379.1" width="22.3" height="5.3" rx="2.7" fill="#000" opacity="1.00"/>
<rect x="621.8" y="379.3" width="21.3" height="5.3" rx="2.7" fill="#000" opacity="1.00"/>
<rect x="642.8" y="379.4" width="21.3" height="5.3" rx="2.7" fill="#000" opacity="1.00"/>
<ellipse cx="543.5" cy="381.8" rx="9.9" ry="3.1" fill="#000" opacity="1.00"/>
<ellipse cx="566" cy="382" rx="9.1" ry="3.1" fill="#000" opacity="1.00"/>
<ellipse cx="587.5" cy="382.6" rx="9.1" ry="3.1" fill="#000" opacity="1.00"/>
<ellipse cx="610.5" cy="381.8" rx="9.9" ry="3.1" fill="#000" opacity="1.00"/>
<ellipse cx="632.5" cy="382" rx="9.5" ry="3.1" fill="#000" opacity="1.00"/>
<ellipse cx="653.5" cy="382.1" rx="9.5" ry="3.1" fill="#000" opacity="1.00"/>
<ellipse cx="543.5" cy="381.8" rx="12.4" ry="4.1" fill="#000" opacity="0.20"/>
<ellipse cx="566" cy="382" rx="11.3" ry="4.1" fill="#000" opacity="0.20"/>
<ellipse cx="587.5" cy="382.6" rx="11.3" ry="4.1" fill="#000" opacity="0.20"/>
<ellipse cx="610.5" cy="381.8" rx="12.4" ry="4.1" fill="#000" opacity="0.20"/>
<ellipse cx="632.5" cy="382" rx="11.9" ry="4.1" fill="#000" opacity="0.20"/>
<ellipse cx="653.5" cy="382.1" rx="11.9" ry="4.1" fill="#000" opacity="0.20"/>
</g></g>
<rect x="522.4" y="369.5" width="149.6" height="25.2" fill="none" stroke="#000" stroke-width="1.15"/>
<text x="595.5" y="411.7" text-anchor="middle">A549</text>
<path d="M26.7 462.5V571H135" stroke="#c9c9c9" stroke-width="1" fill="none"/>
<line x1="24.2" y1="568.2" x2="26.7" y2="568.2" stroke="#c9c9c9" stroke-width="1"/>
<text x="21.3" y="572.7" text-anchor="end">0</text>
<line x1="24.2" y1="551.7" x2="26.7" y2="551.7" stroke="#c9c9c9" stroke-width="1"/>
<text x="21.3" y="556.2" text-anchor="end">1</text>
<line x1="24.2" y1="535.2" x2="26.7" y2="535.2" stroke="#c9c9c9" stroke-width="1"/>
<text x="21.3" y="539.7" text-anchor="end">2</text>
<line x1="24.2" y1="518.7" x2="26.7" y2="518.7" stroke="#c9c9c9" stroke-width="1"/>
<text x="21.3" y="523.2" text-anchor="end">3</text>
<line x1="24.2" y1="502.2" x2="26.7" y2="502.2" stroke="#c9c9c9" stroke-width="1"/>
<text x="21.3" y="506.7" text-anchor="end">4</text>
<line x1="24.2" y1="485.7" x2="26.7" y2="485.7" stroke="#c9c9c9" stroke-width="1"/>
<text x="21.3" y="490.2" text-anchor="end">5</text>
<line x1="24.2" y1="469.2" x2="26.7" y2="469.2" stroke="#c9c9c9" stroke-width="1"/>
<text x="21.3" y="473.7" text-anchor="end">6</text>
<text transform="translate(11 516.2) rotate(-90)" text-anchor="middle">Relative IGF2BP2</text>
<text x="33.5" y="474.5">TCGA</text>
<text x="33.5" y="489.7">LUAD</text>
<text x="106" y="467.5" text-anchor="middle">***</text>
<path d="M106 479.2h0M106 480.1h0M106 481.4h0M104.5 482.5h0M106 482.9h0M107.5 482.5h0M104.5 483.9h0M106 484h0M107.5 483.9h0M103.1 485h0M104.5 485.4h0M106 485.5h0M107.5 485.4h0M108.9 485.2h0M104.5 486.6h0M106 486.7h0M107.5 486.8h0M108.9 486.6h0M104.5 487.9h0M106 488.1h0M107.5 488h0M103.1 488.9h0M104.5 489.2h0M106 489.2h0M107.5 489.3h0M108.9 489.2h0M103.1 490.5h0M104.5 490.3h0M106 490.5h0M107.5 490.4h0M108.9 490.5h0M103.1 491.9h0M104.5 492h0M106 491.9h0M107.5 491.8h0M108.9 491.8h0M98.8 492.5h0M100.2 492.5h0M101.7 492.7h0M103.1 493.1h0M104.5 493.1h0M106 493.5h0M107.5 493.1h0M108.9 492.8h0M110.3 492.8h0M111.8 492.6h0M113.2 492.3h0M103.1 494.2h0M104.5 494.6h0M106 494.8h0M107.5 494.3h0M108.9 494.1h0M103.1 495.4h0M104.5 495.6h0M106 495.7h0M107.5 495.8h0M108.9 495.6h0M110.3 495.3h0M98.8 496.5h0M100.2 496.3h0M101.7 496.9h0M103.1 497h0M104.5 497.2h0M106 497.3h0M107.5 497h0M108.9 496.8h0M110.3 496.5h0M111.8 496.6h0M113.2 496.2h0M100.2 497.9h0M101.7 497.8h0M103.1 498.2h0M104.5 498.4h0M106 498.7h0M107.5 498.4h0M108.9 498h0M110.3 497.9h0M103.1 499.4h0M104.5 499.5h0M106 500h0M107.5 499.9h0M108.9 499.5h0M98.8 500.4h0M100.2 500.5h0M101.7 500.7h0M103.1 500.8h0M104.5 500.8h0M106 501.3h0M107.5 500.9h0M108.9 500.9h0M110.3 500.8h0M111.8 500.6h0M113.2 500.2h0M114.7 500.2h0M100.2 501.6h0M101.7 502.1h0M103.1 502.1h0M104.5 502.4h0M106 502.3h0M107.5 502.1h0M108.9 502.2h0M110.3 502.2h0M111.8 501.9h0M100.2 503.1h0M101.7 503.1h0M103.1 503.1h0M104.5 503.3h0M106 503.6h0M107.5 503.4h0M108.9 503.5h0M110.3 503.4h0M111.8 503h0M97.3 503.9h0M98.8 504.1h0M100.2 504.2h0M101.7 504.6h0M103.1 504.9h0M104.5 505h0M106 505h0M107.5 504.9h0M108.9 504.8h0M110.3 504.3h0M111.8 504.4h0M113.2 504.4h0M100.2 505.6h0M101.7 506h0M103.1 506.2h0M104.5 506.1h0M106 506.3h0M107.5 506.4h0M108.9 506.1h0M110.3 505.7h0M111.8 505.5h0M113.2 505.3h0M95.8 506.7h0M97.3 506.7h0M98.8 506.7h0M100.2 507h0M101.7 506.9h0M103.1 507h0M104.5 507.7h0M106 507.7h0M107.5 507.5h0M108.9 507.5h0M110.3 507.1h0M111.8 507.1h0M113.2 507h0M114.7 506.5h0M116.2 506.4h0M117.6 506.2h0M119 506h0M98.8 508.3h0M100.2 508.2h0M101.7 508.4h0M103.1 508.6h0M104.5 508.9h0M106 508.9h0M107.5 508.9h0M108.9 508.6h0M110.3 508.4h0M111.8 508.3h0M113.2 507.9h0M93 508.6h0M94.4 508.7h0M95.8 509.1h0M97.3 509.1h0M98.8 509.2h0M100.2 509.7h0M101.7 509.7h0M103.1 509.9h0M104.5 510.2h0M106 510.4h0M107.5 509.8h0M108.9 509.7h0M110.3 509.5h0M111.8 509.4h0M113.2 509.4h0M114.7 509h0M116.2 509.3h0M117.6 508.7h0M119 508.7h0M120.5 508.8h0M98.8 510.9h0M100.2 510.9h0M101.7 510.9h0M103.1 511.2h0M104.5 511.5h0M106 511.7h0M107.5 511.6h0M108.9 511.4h0M110.3 510.9h0M111.8 510.8h0M113.2 510.7h0M114.7 510.5h0M98.8 512.1h0M100.2 512.3h0M101.7 512.5h0M103.1 512.3h0M104.5 512.7h0M106 512.9h0M107.5 512.5h0M108.9 512.7h0M110.3 512.6h0M111.8 512h0M113.2 512.2h0M100.2 513.3h0M101.7 513.7h0M103.1 514h0M104.5 513.9h0M106 514.1h0M107.5 513.9h0M108.9 513.6h0M110.3 513.6h0M111.8 513.4h0M113.2 513.3h0M90 513.9h0M91.5 513.6h0M93 514.2h0M94.4 514h0M95.8 514.5h0M97.3 514.2h0M98.8 514.5h0M100.2 515h0M101.7 514.8h0M103.1 515.2h0M104.5 515.4h0M106 515.6h0M107.5 515.3h0M108.9 515.3h0M110.3 514.9h0M111.8 514.8h0M113.2 514.6h0M114.7 514.4h0M116.2 514.2h0M117.6 514h0M119 514.1h0M120.5 513.6h0M122 513.8h0M88.6 514.6h0M90 515.1h0M91.5 514.9h0M93 515.4h0M94.4 515.4h0M95.8 515.5h0M97.3 515.8h0M98.8 516.1h0M100.2 515.9h0M101.7 516h0M103.1 516.4h0M104.5 516.4h0M106 516.5h0M107.5 516.4h0M108.9 516.2h0M110.3 516.1h0M111.8 516h0M113.2 515.8h0M114.7 515.9h0M116.2 515.5h0M117.6 515.4h0M119 515.1h0M120.5 515h0M122 514.7h0M123.4 514.7h0M124.8 514.4h0M97.3 517.3h0M98.8 517h0M100.2 517.5h0M101.7 517.5h0M103.1 517.7h0M104.5 518h0M106 517.9h0M107.5 517.8h0M108.9 517.8h0M110.3 517.8h0M111.8 517.3h0M113.2 517.4h0M114.7 517.1h0M116.2 517h0M95.8 517.9h0M97.3 518.4h0M98.8 518.7h0M100.2 518.6h0M101.7 518.6h0M103.1 519.1h0M104.5 519.1h0M106 519.3h0M107.5 519.4h0M108.9 519h0M110.3 518.9h0M111.8 518.4h0M113.2 518.3h0M114.7 518.2h0M85.7 518.4h0M87.2 518.4h0M88.6 518.9h0M90 518.8h0M91.5 518.9h0M93 518.9h0M94.4 519.3h0M95.8 519.5h0M97.3 519.6h0M98.8 519.7h0M100.2 520h0M101.7 519.9h0M103.1 520.2h0M104.5 520.2h0M106 520.5h0M107.5 520.2h0M108.9 520h0M110.3 520h0M111.8 519.8h0M113.2 519.8h0M114.7 519.7h0M116.2 519.6h0M117.6 519.4h0M119 519.3h0M120.5 519.2h0M122 518.8h0M123.4 518.6h0M124.8 518.8h0M126.3 518.2h0M91.5 520.4h0M93 520.6h0M94.4 520.8h0M95.8 520.6h0M97.3 521h0M98.8 521.1h0M100.2 521.4h0M101.7 521.6h0M103.1 521.7h0M104.5 521.8h0M106 522.1h0M107.5 521.8h0M108.9 521.7h0M110.3 521.3h0M111.8 521h0M113.2 520.9h0M114.7 520.9h0M116.2 520.6h0M117.6 520.8h0M119 520.5h0M120.5 520.4h0M94.4 522.1h0M95.8 522.2h0M97.3 522.2h0M98.8 522.4h0M100.2 522.6h0M101.7 522.5h0M103.1 523h0M104.5 522.9h0M106 523h0M107.5 522.9h0M108.9 523h0M110.3 522.6h0M111.8 522.7h0M113.2 522.6h0M114.7 522.2h0M116.2 522h0M88.6 522.7h0M90 522.6h0M91.5 523h0M93 523h0M94.4 523.3h0M95.8 523.5h0M97.3 523.6h0M98.8 523.5h0M100.2 523.9h0M101.7 524h0M103.1 524.4h0M104.5 524.1h0M106 524.4h0M107.5 524.3h0M108.9 524.3h0M110.3 523.9h0M111.8 523.8h0M113.2 523.8h0M114.7 523.8h0M116.2 523.4h0M117.6 523.1h0M119 522.9h0M120.5 522.9h0M122 522.6h0M93 524.2h0M94.4 524.4h0M95.8 524.9h0M97.3 524.7h0M98.8 525h0M100.2 525h0M101.7 525.3h0M103.1 525.7h0M104.5 525.5h0M106 526h0M107.5 525.6h0M108.9 525.7h0M110.3 525.4h0M111.8 525h0M113.2 525.2h0M114.7 524.8h0M116.2 524.4h0M117.6 524.3h0M88.6 525.1h0M90 525.3h0M91.5 525.3h0M93 525.6h0M94.4 525.7h0M95.8 525.9h0M97.3 526.1h0M98.8 526.5h0M100.2 526.3h0M101.7 526.4h0M103.1 526.9h0M104.5 526.8h0M106 526.9h0M107.5 526.9h0M108.9 527h0M110.3 526.4h0M111.8 526.7h0M113.2 526.4h0M114.7 526.3h0M116.2 525.9h0M117.6 525.6h0M119 525.7h0M120.5 525.6h0M122 525.2h0M123.4 525.4h0M124.8 525h0M93 527.2h0M94.4 527.3h0M95.8 527.3h0M97.3 527.6h0M98.8 527.8h0M100.2 527.8h0M101.7 528h0M103.1 527.9h0M104.5 528.4h0M106 528.4h0M107.5 528.4h0M108.9 528.2h0M110.3 527.8h0M111.8 527.5h0M113.2 527.8h0M114.7 527.3h0M116.2 527.3h0M117.6 527h0M119 526.9h0M120.5 526.9h0M87.2 527.7h0M88.6 527.6h0M90 528h0M91.5 527.9h0M93 528.3h0M94.4 528.6h0M95.8 528.6h0M97.3 528.7h0M98.8 528.8h0M100.2 529.2h0M101.7 529.2h0M103.1 529.4h0M104.5 529.4h0M106 529.5h0M107.5 529.6h0M108.9 529.3h0M110.3 529.2h0M111.8 529.2h0M113.2 528.8h0M114.7 528.5h0M116.2 528.8h0M117.6 528.4h0M119 528.4h0M120.5 528h0M122 527.8h0M123.4 527.9h0M124.8 527.6h0M126.3 527.5h0M93 529.7h0M94.4 529.6h0M95.8 529.8h0M97.3 529.9h0M98.8 530.2h0M100.2 530.3h0M101.7 530.7h0M103.1 530.9h0M104.5 531h0M106 530.8h0M107.5 530.6h0M108.9 530.8h0M110.3 530.7h0M111.8 530.3h0M113.2 530.2h0M114.7 529.8h0M116.2 529.8h0M117.6 529.9h0M119 529.7h0M88.6 530.2h0M90 530.6h0M91.5 530.8h0M93 531.1h0M94.4 531.1h0M95.8 531.3h0M97.3 531.5h0M98.8 531.5h0M100.2 531.7h0M101.7 531.6h0M103.1 532.1h0M104.5 532h0M106 532.5h0M107.5 532.2h0M108.9 531.9h0M110.3 531.6h0M111.8 531.5h0M113.2 531.6h0M114.7 531.4h0M116.2 531h0M117.6 530.8h0M119 530.9h0M120.5 530.7h0M122 530.5h0M97.3 532.9h0M98.8 532.7h0M100.2 532.9h0M101.7 533.3h0M103.1 533.2h0M104.5 533.5h0M106 533.6h0M107.5 533.2h0M108.9 533.2h0M110.3 533.2h0M111.8 532.7h0M113.2 532.6h0M114.7 532.8h0M116.2 532.6h0M95.8 533.6h0M97.3 533.7h0M98.8 534h0M100.2 534.2h0M101.7 534.5h0M103.1 534.4h0M104.5 534.9h0M106 535h0M107.5 534.7h0M108.9 534.4h0M110.3 534.7h0M111.8 534.2h0M113.2 534.3h0M114.7 533.8h0M116.2 533.6h0M117.6 533.8h0M90 534.6h0M91.5 534.6h0M93 535h0M94.4 534.7h0M95.8 535.1h0M97.3 535.5h0M98.8 535.2h0M100.2 535.3h0M101.7 535.8h0M103.1 535.8h0M104.5 536.1h0M106 536h0M107.5 536h0M108.9 536h0M110.3 535.6h0M111.8 535.4h0M113.2 535.2h0M114.7 535.1h0M116.2 534.9h0M117.6 535h0M119 534.8h0M120.5 534.6h0M122 534.4h0M97.3 536.3h0M98.8 536.5h0M100.2 536.7h0M101.7 537h0M103.1 537.4h0M104.5 537.4h0M106 537.6h0M107.5 537.3h0M108.9 537.3h0M110.3 536.9h0M111.8 537h0M113.2 536.5h0M93 537.3h0M94.4 537.6h0M95.8 537.7h0M97.3 537.9h0M98.8 537.9h0M100.2 538.2h0M101.7 538.3h0M103.1 538.4h0M104.5 538.6h0M106 539h0M107.5 538.4h0M108.9 538.3h0M110.3 538.1h0M111.8 538.2h0M113.2 537.9h0M114.7 537.8h0M116.2 537.9h0M117.6 537.3h0M119 537.5h0M95.8 539h0M97.3 539.3h0M98.8 539.5h0M100.2 539.2h0M101.7 539.8h0M103.1 539.6h0M104.5 540h0M106 540.1h0M107.5 540.1h0M108.9 539.9h0M110.3 539.8h0M111.8 539.6h0M113.2 539.1h0M114.7 539.1h0M116.2 538.7h0M117.6 539h0M90 539.6h0M91.5 539.7h0M93 539.9h0M94.4 540.3h0M95.8 540.1h0M97.3 540.3h0M98.8 540.7h0M100.2 540.6h0M101.7 540.7h0M103.1 540.8h0M104.5 541.3h0M106 541.3h0M107.5 541.5h0M108.9 541.3h0M110.3 541.2h0M111.8 540.6h0M113.2 540.4h0M114.7 540.2h0M116.2 540.3h0M117.6 540.2h0M119 539.9h0M120.5 539.7h0M98.8 541.9h0M100.2 542.2h0M101.7 542.4h0M103.1 542.5h0M104.5 542.4h0M106 542.6h0M107.5 542.4h0M108.9 542.3h0M110.3 542.1h0M111.8 542h0M95.8 542.9h0M97.3 543h0M98.8 543.2h0M100.2 543.6h0M101.7 543.5h0M103.1 543.5h0M104.5 544h0M106 544.1h0M107.5 544.1h0M108.9 543.5h0M110.3 543.5h0M111.8 543.5h0M113.2 543.4h0M114.7 543.3h0M116.2 542.7h0M117.6 542.6h0M98.8 544.3h0M100.2 544.4h0M101.7 544.8h0M103.1 544.8h0M104.5 545.2h0M106 545.4h0M107.5 545.2h0M108.9 544.7h0M110.3 544.9h0M111.8 544.8h0M113.2 544.4h0M93 545h0M94.4 545.4h0M95.8 545.6h0M97.3 545.5h0M98.8 545.6h0M100.2 545.9h0M101.7 546.2h0M103.1 546.1h0M104.5 546.3h0M106 546.5h0M107.5 546.6h0M108.9 546.3h0M110.3 545.9h0M111.8 545.8h0M113.2 545.8h0M114.7 545.7h0M116.2 545.6h0M117.6 545.1h0M119 545h0M94.4 546.9h0M95.8 546.7h0M97.3 547h0M98.8 547h0M100.2 547.2h0M101.7 547.6h0M103.1 547.8h0M104.5 547.7h0M106 547.7h0M107.5 547.9h0M108.9 547.4h0M110.3 547.2h0M111.8 547.5h0M113.2 547.1h0M114.7 547.1h0M116.2 546.7h0M117.6 546.8h0M95.8 547.9h0M97.3 548.4h0M98.8 548.4h0M100.2 548.6h0M101.7 548.9h0M103.1 549h0M104.5 548.9h0M106 549.1h0M107.5 548.9h0M108.9 548.7h0M110.3 548.5h0M111.8 548.5h0M113.2 548.5h0M114.7 548.4h0M116.2 548.2h0M93 549.1h0M94.4 549h0M95.8 549.6h0M97.3 549.5h0M98.8 549.9h0M100.2 549.9h0M101.7 550.2h0M103.1 550h0M104.5 550.5h0M106 550.4h0M107.5 550.3h0M108.9 550.4h0M110.3 550.2h0M111.8 549.7h0M113.2 549.6h0M114.7 549.5h0M116.2 549.4h0M117.6 549.2h0M119 548.9h0M98.8 551.2h0M100.2 551.3h0M101.7 551.4h0M103.1 551.6h0M104.5 551.6h0M106 551.7h0M107.5 551.6h0M108.9 551.7h0M110.3 551.5h0M111.8 551.2h0M94.4 551.8h0M95.8 552h0M97.3 551.9h0M98.8 552.4h0M100.2 552.5h0M101.7 552.5h0M103.1 552.9h0M104.5 553.1h0M106 553.1h0M107.5 552.8h0M108.9 552.8h0M110.3 552.4h0M111.8 552.3h0M113.2 552.3h0M114.7 551.9h0M116.2 552h0M117.6 551.8h0M119 551.4h0M97.3 553.4h0M98.8 553.4h0M100.2 553.8h0M101.7 553.9h0M103.1 554.3h0M104.5 554.1h0M106 554.6h0M107.5 554.5h0M108.9 554.2h0M110.3 554.1h0M111.8 553.6h0M113.2 553.8h0M114.7 553.4h0M95.8 554.8h0M97.3 554.8h0M98.8 554.8h0M100.2 555h0M101.7 555.3h0M103.1 555.6h0M104.5 555.5h0M106 555.6h0M107.5 555.8h0M108.9 555.4h0M110.3 555.3h0M111.8 555.1h0M113.2 554.8h0M114.7 554.7h0M101.7 556.6h0M103.1 556.9h0M104.5 556.7h0M106 557.1h0M107.5 556.6h0M108.9 556.7h0M110.3 556.6h0M100.2 557.8h0M101.7 558h0M103.1 557.9h0M104.5 558.2h0M106 558.5h0M107.5 558.3h0M108.9 557.9h0M110.3 557.8h0M111.8 557.6h0M98.8 558.6h0M100.2 559.1h0M101.7 558.9h0M103.1 559.4h0M104.5 559.3h0M106 559.7h0M107.5 559.7h0M108.9 559.3h0M110.3 559.2h0M111.8 558.9h0M98.8 560.2h0M100.2 560.2h0M101.7 560.4h0M103.1 560.4h0M104.5 560.7h0M106 561h0M107.5 560.5h0M108.9 560.4h0M110.3 560.5h0M111.8 560.2h0M113.2 560.1h0M103.1 561.7h0M104.5 562.1h0M106 562.2h0M107.5 561.9h0M108.9 562.1h0M104.5 563.2h0M106 563.6h0M107.5 563.2h0M103.1 564.7h0M104.5 564.7h0M106 564.8h0M107.5 564.7h0M108.9 564.5h0M104.5 566h0M106 566.1h0M107.5 565.8h0" stroke="#ff0000" stroke-width="1.6" stroke-linecap="round" fill="none"/>
<path d="M106 466.5h0M106.8 472h0" stroke="#ff0000" stroke-width="1.7" stroke-linecap="round" fill="none"/>
<path d="M55.5 517.7h0M57 517.1h0M55.5 521h0M51 525.7h0M52.5 526.3h0M54 526.9h0M55.5 527.5h0M57 526.9h0M58.5 526.3h0M60 525.7h0M61.5 525.1h0M52.5 529.3h0M54 529.9h0M55.5 530.5h0M57 529.9h0M58.5 529.3h0M48 531h0M49.5 531.6h0M51 532.2h0M52.5 532.8h0M54 533.4h0M55.5 534h0M57 533.4h0M58.5 532.8h0M60 532.2h0M61.5 531.6h0M52.5 535.3h0M54 535.9h0M55.5 536.5h0M57 535.9h0M58.5 535.3h0M60 534.7h0M52.5 537.1h0M54 537.7h0M55.5 538.3h0M57 537.7h0M58.5 537.1h0M49.5 537.9h0M51 538.5h0M52.5 539.1h0M54 539.7h0M55.5 540.3h0M57 539.7h0M58.5 539.1h0M60 538.5h0M61.5 537.9h0M54 542.4h0M55.5 543h0M57 542.4h0M52.5 544.3h0M54 544.9h0M55.5 545.5h0M57 544.9h0M54 546.9h0M55.5 547.5h0M57 546.9h0M55.5 549.5h0M57 548.9h0M55.5 551.5h0" stroke="#2a2af0" stroke-width="1.6" stroke-linecap="round" fill="none"/>
<line x1="86" y1="514.5" x2="126" y2="514.5" stroke="#777" stroke-width="0.8"/>
<line x1="86" y1="544.5" x2="126" y2="544.5" stroke="#777" stroke-width="0.8"/>
<line x1="83" y1="529.5" x2="129" y2="529.5" stroke="#222" stroke-width="0.8"/>
<line x1="106.5" y1="514.5" x2="106.5" y2="544.5" stroke="#111" stroke-width="0.8"/>
<line x1="52.5" y1="525.5" x2="58.5" y2="525.5" stroke="#777" stroke-width="0.7"/>
<line x1="52.5" y1="537.5" x2="58.5" y2="537.5" stroke="#777" stroke-width="0.7"/>
<line x1="51.5" y1="531.5" x2="59.5" y2="531.5" stroke="#222" stroke-width="0.7"/>
<line x1="55.5" y1="525.5" x2="55.5" y2="537.5" stroke="#111" stroke-width="0.7"/>
<text x="54.2" y="586" text-anchor="middle">Normal</text>
<text x="54" y="602" text-anchor="middle">(n=59)</text>
<text x="103.6" y="586" text-anchor="middle">Tumor</text>
<text x="103.2" y="602" text-anchor="middle">(n=526)</text>
<path d="M155.5 465V575H263" stroke="#c9c9c9" stroke-width="1" fill="none"/>
<line x1="153" y1="572" x2="155.5" y2="572" stroke="#c9c9c9" stroke-width="1"/>
<text x="150.7" y="576.5" text-anchor="end">0</text>
<line x1="153" y1="545.9" x2="155.5" y2="545.9" stroke="#c9c9c9" stroke-width="1"/>
<text x="150.7" y="550.4" text-anchor="end">2</text>
<line x1="153" y1="519.8" x2="155.5" y2="519.8" stroke="#c9c9c9" stroke-width="1"/>
<text x="150.7" y="524.3" text-anchor="end">4</text>
<line x1="153" y1="493.7" x2="155.5" y2="493.7" stroke="#c9c9c9" stroke-width="1"/>
<text x="150.7" y="498.2" text-anchor="end">6</text>
<line x1="153" y1="467.6" x2="155.5" y2="467.6" stroke="#c9c9c9" stroke-width="1"/>
<text x="150.7" y="472.1" text-anchor="end">8</text>
<text transform="translate(141 517.3) rotate(-90)" text-anchor="middle">Relative IGF2BP2</text>
<text x="162.3" y="475">TCGA</text>
<text x="162.3" y="490.7">LUSC</text>
<text x="235" y="468.5" text-anchor="middle">***</text>
<path d="M234.4 484.1h0M234.4 485.3h0M234.4 486.5h0M234.4 487.9h0M234.4 489.3h0M234.4 490.6h0M233 491.8h0M234.4 491.9h0M235.8 491.5h0M230.1 492.9h0M231.5 492.7h0M233 493.2h0M234.4 493.3h0M235.8 492.7h0M237.3 492.8h0M238.8 492.5h0M230.1 494.1h0M231.5 493.9h0M233 494.2h0M234.4 494.5h0M235.8 494.2h0M237.3 494.3h0M238.8 494.1h0M227.2 495.1h0M228.6 495h0M230.1 495.3h0M231.5 495.4h0M233 495.4h0M234.4 495.6h0M235.8 495.6h0M237.3 495.2h0M238.8 495.4h0M240.2 494.9h0M241.7 494.7h0M227.2 496.3h0M228.6 496.1h0M230.1 496.3h0M231.5 496.8h0M233 496.6h0M234.4 496.8h0M235.8 496.6h0M237.3 496.9h0M238.8 496.7h0M240.2 496.2h0M241.7 496.4h0M243.1 496.1h0M222.8 497h0M224.2 497.1h0M225.7 497.2h0M227.2 497.3h0M228.6 497.9h0M230.1 498h0M231.5 498.1h0M233 497.9h0M234.4 498.4h0M235.8 498.2h0M237.3 498h0M238.8 497.6h0M240.2 497.8h0M241.7 497.6h0M243.1 497.2h0M244.6 497.1h0M246 496.9h0M222.8 498.3h0M224.2 498.4h0M225.7 498.9h0M227.2 498.8h0M228.6 499.1h0M230.1 499.2h0M231.5 499h0M233 499.4h0M234.4 499.6h0M235.8 499.6h0M237.3 499.2h0M238.8 499.2h0M240.2 499h0M241.7 498.7h0M243.1 498.8h0M244.6 498.3h0M246 498.5h0M247.5 498h0M212.7 498.3h0M214.1 498.6h0M215.6 498.6h0M217 499.1h0M218.5 499.3h0M219.9 499.5h0M221.3 499.5h0M222.8 499.9h0M224.2 499.8h0M225.7 500h0M227.2 499.9h0M228.6 500.4h0M230.1 500.6h0M231.5 500.4h0M233 500.6h0M234.4 501.1h0M235.8 500.9h0M237.3 500.6h0M238.8 500.7h0M240.2 500.3h0M241.7 499.9h0M243.1 499.9h0M244.6 499.6h0M246 499.8h0M247.5 499.7h0M248.9 499.4h0M250.3 499.1h0M251.8 499.1h0M253.2 498.8h0M254.7 498.6h0M256.1 498.5h0M257.6 498.4h0M259.1 498h0M224.2 501.2h0M225.7 501.3h0M227.2 501.2h0M228.6 501.6h0M230.1 501.7h0M231.5 502.1h0M233 502h0M234.4 502.2h0M235.8 502h0M237.3 501.9h0M238.8 501.8h0M240.2 501.4h0M241.7 501.3h0M243.1 501.2h0M244.6 501.2h0M246 501h0M222.8 502.4h0M224.2 502.2h0M225.7 502.4h0M227.2 502.6h0M228.6 502.8h0M230.1 503h0M231.5 503h0M233 503.3h0M234.4 503.3h0M235.8 503.6h0M237.3 503.3h0M238.8 502.8h0M240.2 503.1h0M241.7 502.5h0M243.1 502.5h0M244.6 502.6h0M246 502.4h0M247.5 502.2h0M225.7 503.7h0M227.2 504.2h0M228.6 504.1h0M230.1 504.1h0M231.5 504.7h0M233 504.6h0M234.4 504.7h0M235.8 504.9h0M237.3 504.4h0M238.8 504.1h0M240.2 504h0M241.7 504.1h0M243.1 503.6h0M244.6 503.6h0M224.2 505.2h0M225.7 505.2h0M227.2 505.4h0M228.6 505.7h0M230.1 505.7h0M231.5 505.8h0M233 505.8h0M234.4 505.9h0M235.8 505.8h0M237.3 505.7h0M238.8 505.5h0M240.2 505.6h0M241.7 505.5h0M243.1 505h0M244.6 504.9h0M218.5 505.7h0M219.9 505.8h0M221.3 506.1h0M222.8 506.3h0M224.2 506.1h0M225.7 506.5h0M227.2 506.7h0M228.6 506.7h0M230.1 506.9h0M231.5 507.3h0M233 507h0M234.4 507.4h0M235.8 507.1h0M237.3 507.2h0M238.8 507.1h0M240.2 506.8h0M241.7 506.4h0M243.1 506.5h0M244.6 506.3h0M246 506.2h0M247.5 506h0M248.9 505.9h0M250.3 505.8h0M251.8 505.5h0M224.2 507.4h0M225.7 507.7h0M227.2 508.1h0M228.6 508.2h0M230.1 508.3h0M231.5 508.4h0M233 508.4h0M234.4 508.6h0M235.8 508.3h0M237.3 508.2h0M238.8 508.4h0M240.2 508.1h0M241.7 508h0M243.1 507.8h0M244.6 507.4h0M246 507.3h0M225.7 509.2h0M227.2 509.1h0M228.6 509.2h0M230.1 509.3h0M231.5 509.8h0M233 510h0M234.4 510.1h0M235.8 509.8h0M237.3 509.7h0M238.8 509.4h0M240.2 509.6h0M241.7 509.1h0M228.6 510.5h0M230.1 511h0M231.5 510.9h0M233 511.3h0M234.4 511.2h0M235.8 511.1h0M237.3 510.9h0M238.8 510.8h0M240.2 510.5h0M241.7 510.3h0M218.5 510.8h0M219.9 511.1h0M221.3 511h0M222.8 511.5h0M224.2 511.3h0M225.7 511.5h0M227.2 511.7h0M228.6 511.8h0M230.1 512.2h0M231.5 512.2h0M233 512.7h0M234.4 512.6h0M235.8 512.4h0M237.3 512.3h0M238.8 512.2h0M240.2 511.8h0M241.7 511.6h0M243.1 511.5h0M244.6 511.5h0M246 511.4h0M247.5 511.3h0M248.9 510.8h0M221.3 512.6h0M222.8 512.5h0M224.2 513h0M225.7 513h0M227.2 513.2h0M228.6 513.3h0M230.1 513.6h0M231.5 513.7h0M233 513.9h0M234.4 513.7h0M235.8 513.8h0M237.3 513.6h0M238.8 513.5h0M240.2 513.2h0M241.7 513.3h0M243.1 513h0M244.6 512.7h0M246 512.5h0M247.5 512.3h0M248.9 512.3h0M250.3 511.9h0M217 513.1h0M218.5 513.5h0M219.9 513.7h0M221.3 513.6h0M222.8 513.8h0M224.2 514.2h0M225.7 514.2h0M227.2 514.3h0M228.6 514.5h0M230.1 514.7h0M231.5 515.1h0M233 515.1h0M234.4 515h0M235.8 515h0M237.3 515h0M238.8 514.5h0M240.2 514.3h0M241.7 514.5h0M243.1 514.5h0M244.6 514.2h0M246 513.7h0M247.5 513.8h0M248.9 513.7h0M219.9 514.8h0M221.3 515.2h0M222.8 515.2h0M224.2 515.4h0M225.7 515.6h0M227.2 515.8h0M228.6 515.7h0M230.1 516h0M231.5 516.1h0M233 516.4h0M234.4 516.7h0M235.8 516.2h0M237.3 516.3h0M238.8 516h0M240.2 515.9h0M241.7 515.6h0M243.1 515.5h0M244.6 515.6h0M246 515.3h0M247.5 515.2h0M248.9 514.8h0M222.8 516.3h0M224.2 516.9h0M225.7 516.8h0M227.2 517h0M228.6 517.1h0M230.1 517.4h0M231.5 517.4h0M233 517.4h0M234.4 517.6h0M235.8 517.8h0M237.3 517.5h0M238.8 517.5h0M240.2 516.9h0M241.7 517h0M243.1 516.9h0M244.6 516.6h0M246 516.3h0M247.5 516.5h0M248.9 516.3h0M224.2 518.1h0M225.7 517.9h0M227.2 518.1h0M228.6 518.2h0M230.1 518.8h0M231.5 519h0M233 519h0M234.4 519h0M235.8 519.1h0M237.3 518.9h0M238.8 518.7h0M240.2 518.3h0M241.7 518.2h0M243.1 518.1h0M244.6 517.9h0M227.2 519.6h0M228.6 519.8h0M230.1 520.1h0M231.5 520.2h0M233 520.2h0M234.4 520.5h0M235.8 520.2h0M237.3 519.9h0M238.8 520h0M240.2 519.8h0M241.7 519.8h0M243.1 519.5h0M221.3 520.3h0M222.8 520.3h0M224.2 520.4h0M225.7 520.5h0M227.2 520.7h0M228.6 521.2h0M230.1 521h0M231.5 521.6h0M233 521.3h0M234.4 521.9h0M235.8 521.4h0M237.3 521.1h0M238.8 521.3h0M240.2 520.9h0M241.7 521h0M243.1 520.6h0M244.6 520.4h0M246 520.6h0M222.8 521.8h0M224.2 521.9h0M225.7 522.3h0M227.2 522.1h0M228.6 522.6h0M230.1 522.6h0M231.5 522.4h0M233 522.6h0M234.4 523.1h0M235.8 523h0M237.3 522.5h0M238.8 522.4h0M240.2 522.5h0M241.7 522h0M243.1 522.2h0M244.6 521.9h0M246 521.5h0M247.5 521.5h0M224.2 523h0M225.7 523.6h0M227.2 523.3h0M228.6 523.8h0M230.1 523.8h0M231.5 524.1h0M233 524.1h0M234.4 524.2h0M235.8 524.3h0M237.3 523.9h0M238.8 523.7h0M240.2 523.7h0M241.7 523.6h0M243.1 523.5h0M244.6 523.2h0M246 523.2h0M247.5 523h0M248.9 522.5h0M224.2 524.7h0M225.7 524.6h0M227.2 524.9h0M228.6 525h0M230.1 525.3h0M231.5 525.4h0M233 525.3h0M234.4 525.4h0M235.8 525.3h0M237.3 525.2h0M238.8 525.2h0M240.2 525.1h0M241.7 525h0M243.1 524.4h0M244.6 524.7h0M224.2 525.9h0M225.7 526.1h0M227.2 526h0M228.6 526.1h0M230.1 526.4h0M231.5 526.7h0M233 526.6h0M234.4 527h0M235.8 527h0M237.3 526.4h0M238.8 526.5h0M240.2 526.4h0M241.7 526.1h0M243.1 525.8h0M244.6 525.7h0M222.8 527.1h0M224.2 527.2h0M225.7 527.1h0M227.2 527.4h0M228.6 527.8h0M230.1 527.9h0M231.5 527.9h0M233 528h0M234.4 528.2h0M235.8 527.9h0M237.3 527.7h0M238.8 527.6h0M240.2 527.7h0M241.7 527.3h0M243.1 527.3h0M244.6 527h0M228.6 528.9h0M230.1 529.2h0M231.5 529.1h0M233 529.3h0M234.4 529.3h0M235.8 529.2h0M237.3 528.9h0M238.8 528.9h0M240.2 528.9h0M241.7 528.5h0M228.6 530.2h0M230.1 530.2h0M231.5 530.6h0M233 530.6h0M234.4 531h0M235.8 530.8h0M237.3 530.6h0M238.8 530.6h0M225.7 531.1h0M227.2 531.1h0M228.6 531.2h0M230.1 531.6h0M231.5 531.9h0M233 531.9h0M234.4 532.3h0M235.8 532.1h0M237.3 532h0M238.8 531.7h0M240.2 531.7h0M241.7 531.4h0M243.1 530.9h0M244.6 530.9h0M230.1 532.9h0M231.5 533.1h0M233 533.1h0M234.4 533.6h0M235.8 533.5h0M237.3 532.9h0M238.8 532.7h0M227.2 533.7h0M228.6 534.3h0M230.1 534.1h0M231.5 534.4h0M233 534.7h0M234.4 534.8h0M235.8 534.5h0M237.3 534.2h0M238.8 534.1h0M240.2 533.8h0M241.7 533.8h0M243.1 533.9h0M228.6 535.2h0M230.1 535.3h0M231.5 535.7h0M233 535.7h0M234.4 535.9h0M235.8 535.7h0M237.3 535.8h0M238.8 535.3h0M240.2 535.5h0M241.7 535.1h0M225.7 536.4h0M227.2 536.4h0M228.6 536.8h0M230.1 537h0M231.5 537.2h0M233 537.4h0M234.4 537.2h0M235.8 536.9h0M237.3 536.8h0M238.8 537.1h0M240.2 536.6h0M241.7 536.4h0M230.1 537.9h0M231.5 538.4h0M233 538.5h0M234.4 538.4h0M235.8 538.6h0M237.3 538.2h0M238.8 538.1h0M228.6 539.4h0M230.1 539.3h0M231.5 539.4h0M233 539.7h0M234.4 539.9h0M235.8 539.6h0M237.3 539.6h0M238.8 539.5h0M240.2 539.4h0M230.1 540.8h0M231.5 541.1h0M233 541h0M234.4 541.1h0M235.8 540.9h0M237.3 540.8h0M231.5 542.3h0M233 542.2h0M234.4 542.7h0M235.8 542.1h0M237.3 542.3h0M230.1 543.5h0M231.5 543.4h0M233 543.6h0M234.4 543.6h0M235.8 543.6h0M237.3 543.4h0M238.8 543.2h0M231.5 544.8h0M233 545.1h0M234.4 545.3h0M235.8 545.1h0M237.3 544.9h0M230.1 546.1h0M231.5 546.1h0M233 546.1h0M234.4 546.2h0M235.8 546.4h0M237.3 546h0M238.8 546h0M228.6 547.1h0M230.1 547.4h0M231.5 547.2h0M233 547.5h0M234.4 547.8h0M235.8 547.4h0M237.3 547.5h0M238.8 547.1h0M240.2 547.1h0M231.5 548.9h0M233 548.8h0M234.4 549.2h0M235.8 549.1h0M237.3 548.5h0M230.1 549.7h0M231.5 550.1h0M233 550.1h0M234.4 550.4h0M235.8 549.9h0M237.3 550.2h0M238.8 550h0M230.1 550.9h0M231.5 551.2h0M233 551.2h0M234.4 551.7h0M235.8 551.3h0M237.3 551.2h0M238.8 551.1h0M240.2 551.2h0M228.6 552h0M230.1 552.5h0M231.5 552.6h0M233 552.8h0M234.4 553h0M235.8 552.5h0M237.3 552.8h0M238.8 552.5h0M240.2 552h0M231.5 553.7h0M233 553.9h0M234.4 554.4h0M235.8 554.1h0M237.3 553.7h0M231.5 555h0M233 555.5h0M234.4 555.7h0M235.8 555.3h0M237.3 555.1h0M231.5 556.4h0M233 556.6h0M234.4 557h0M235.8 556.7h0M237.3 556.7h0M230.1 557.6h0M231.5 558h0M233 558.2h0M234.4 558h0M235.8 557.9h0M237.3 557.8h0M231.5 558.9h0M233 559.3h0M234.4 559.3h0M235.8 559.2h0M237.3 559h0M230.1 560.4h0M231.5 560.1h0M233 560.6h0M234.4 560.6h0M235.8 560.6h0M237.3 560.3h0M238.8 560.2h0M230.1 561.5h0M231.5 561.9h0M233 561.7h0M234.4 561.9h0M235.8 561.9h0M237.3 561.5h0M238.8 561.6h0M233 563.4h0M234.4 563.3h0M235.8 563.1h0M237.3 563.2h0M233 564.6h0M234.4 564.5h0M235.8 564.4h0M233 565.7h0M234.4 565.9h0M235.8 565.8h0M233 566.9h0M234.4 567.2h0M235.8 567.3h0M234.4 568.4h0M234.4 569.7h0" stroke="#ff0000" stroke-width="1.6" stroke-linecap="round" fill="none"/>
<path d="M234.4 471h0M234.4 474h0M234 477h0M235 479h0M234.4 481.5h0" stroke="#ff0000" stroke-width="1.7" stroke-linecap="round" fill="none"/>
<path d="M184.5 535h0M183 537.1h0M184.5 537.5h0M186 537.1h0M181.5 539.2h0M183 539.6h0M184.5 540h0M186 539.6h0M187.5 539.2h0M178.5 540.8h0M180 541.2h0M181.5 541.5h0M183 541.9h0M184.5 542.3h0M186 541.9h0M187.5 541.5h0M189 541.2h0M190.5 540.8h0M177 542.1h0M178.5 542.5h0M180 542.9h0M181.5 543.2h0M183 543.6h0M184.5 544h0M186 543.6h0M187.5 543.2h0M189 542.9h0M190.5 542.5h0M192 542.1h0M180 544.9h0M181.5 545.2h0M183 545.6h0M184.5 546h0M186 545.6h0M187.5 545.2h0M189 544.9h0M190.5 544.5h0M180 546.9h0M181.5 547.2h0M183 547.6h0M184.5 548h0M186 547.6h0M187.5 547.2h0M189 546.9h0M181.5 549.2h0M183 549.6h0M184.5 550h0M186 549.6h0M187.5 549.2h0M183 551.9h0M184.5 552.3h0" stroke="#2a2af0" stroke-width="1.6" stroke-linecap="round" fill="none"/>
<line x1="214.4" y1="505.5" x2="254.4" y2="505.5" stroke="#333" stroke-width="0.8"/>
<line x1="214.4" y1="530.5" x2="254.4" y2="530.5" stroke="#999" stroke-width="0.8"/>
<line x1="214.4" y1="515.5" x2="254.4" y2="515.5" stroke="#777" stroke-width="0.8"/>
<line x1="234.5" y1="505.5" x2="234.5" y2="530.5" stroke="#111" stroke-width="0.8"/>
<line x1="182" y1="540.5" x2="187" y2="540.5" stroke="#777" stroke-width="0.7"/>
<line x1="182" y1="547.5" x2="187" y2="547.5" stroke="#777" stroke-width="0.7"/>
<line x1="181.5" y1="544.5" x2="187.5" y2="544.5" stroke="#222" stroke-width="0.7"/>
<line x1="184.5" y1="540.5" x2="184.5" y2="547.5" stroke="#111" stroke-width="0.7"/>
<text x="184.2" y="587.5" text-anchor="middle">Normal</text>
<text x="183.8" y="602.5" text-anchor="middle">(n=49)</text>
<text x="234.3" y="587.5" text-anchor="middle">Tumor</text>
<text x="233.3" y="602.5" text-anchor="middle">(n=501)</text>
<path d="M295.5 466V576H396" stroke="#c9c9c9" stroke-width="1" fill="none"/>
<line x1="293" y1="561.7" x2="295.5" y2="561.7" stroke="#c9c9c9" stroke-width="1"/>
<text x="290.3" y="566.2" text-anchor="end">4</text>
<line x1="293" y1="538" x2="295.5" y2="538" stroke="#c9c9c9" stroke-width="1"/>
<text x="290.3" y="542.5" text-anchor="end">5</text>
<line x1="293" y1="514.3" x2="295.5" y2="514.3" stroke="#c9c9c9" stroke-width="1"/>
<text x="290.3" y="518.8" text-anchor="end">6</text>
<line x1="293" y1="490.6" x2="295.5" y2="490.6" stroke="#c9c9c9" stroke-width="1"/>
<text x="290.3" y="495.1" text-anchor="end">7</text>
<text transform="translate(279 517.8) rotate(-90)" text-anchor="middle">Relative IGF2BP2</text>
<text x="297" y="477">GSE30219</text>
<text x="369.5" y="467.5" text-anchor="middle">***</text>
<path d="M369.1 471.5h0M369.1 474.5h0M369.5 477.5h0M369.6 480.5h0M369.4 483h0M369.6 485.5h0M369.5 488h0M369.8 490.5h0M369.4 493h0M369.7 495.5h0M369.5 498h0M369.9 500.5h0" stroke="#ff0000" stroke-width="1.7" stroke-linecap="round" fill="none"/>
<path d="M366.6 503.6h0M368.1 504.1h0M369.5 504.5h0M370.9 504.1h0M372.4 503.6h0M365.1 505h0M366.6 505.4h0M368.1 505.9h0M369.5 506.3h0M370.9 505.9h0M372.4 505.4h0M373.9 505h0M366.6 508.1h0M368.1 508.6h0M369.5 509h0M370.9 508.6h0M368.1 511.6h0M369.5 512h0M370.9 511.6h0M368.1 514.6h0M369.5 515h0M368.1 517.1h0M369.5 517.5h0M370.9 517.1h0M372.4 516.6h0M369.5 520.5h0M370.9 520.1h0M368.1 522.6h0M369.5 523h0M370.9 522.6h0M363.7 524.6h0M365.1 525h0M366.6 525.4h0M368.1 525.9h0M369.5 526.3h0M370.9 525.9h0M372.4 525.4h0M373.9 525h0M375.3 524.6h0M376.8 524.1h0M365.1 527.7h0M366.6 528.1h0M368.1 528.6h0M369.5 529h0M370.9 528.6h0M372.4 528.1h0M373.9 527.7h0M366.6 530.6h0M368.1 531.1h0M369.5 531.5h0M370.9 531.1h0M372.4 530.6h0M373.9 530.2h0M365.1 533.2h0M366.6 533.6h0M368.1 534.1h0M369.5 534.5h0M370.9 534.1h0M372.4 533.6h0M362.2 535.1h0M363.7 535.6h0M365.1 536h0M366.6 536.4h0M368.1 536.9h0M369.5 537.3h0M370.9 536.9h0M372.4 536.4h0M373.9 536h0M375.3 535.6h0M376.8 535.1h0M363.7 538.3h0M365.1 538.7h0M366.6 539.1h0M368.1 539.6h0M369.5 540h0M370.9 539.6h0M372.4 539.1h0M373.9 538.7h0M375.3 538.3h0M360.8 539.7h0M362.2 540.1h0M363.7 540.6h0M365.1 541h0M366.6 541.4h0M368.1 541.9h0M369.5 542.3h0M370.9 541.9h0M372.4 541.4h0M373.9 541h0M375.3 540.6h0M376.8 540.1h0M362.2 542.4h0M363.7 542.9h0M365.1 543.3h0M366.6 543.7h0M368.1 544.2h0M369.5 544.6h0M370.9 544.2h0M372.4 543.7h0M373.9 543.3h0M375.3 542.9h0M376.8 542.4h0M378.2 542h0M357.9 543.3h0M359.4 543.8h0M360.8 544.2h0M362.2 544.6h0M363.7 545.1h0M365.1 545.5h0M366.6 545.9h0M368.1 546.4h0M369.5 546.8h0M370.9 546.4h0M372.4 545.9h0M373.9 545.5h0M375.3 545.1h0M376.8 544.6h0M378.2 544.2h0M379.6 543.8h0M381.1 543.3h0M360.8 546h0M362.2 546.4h0M363.7 546.9h0M365.1 547.3h0M366.6 547.7h0M368.1 548.2h0M369.5 548.6h0M370.9 548.2h0M372.4 547.7h0M373.9 547.3h0M375.3 546.9h0M376.8 546.4h0M378.2 546h0" stroke="#ff0000" stroke-width="1.6" stroke-linecap="round" fill="none"/>
<path d="M357.9 547h0M359.4 547.3h0M360.8 547.3h0M362.2 547.8h0M363.7 547.6h0M365.1 548.2h0M366.6 548.4h0M368.1 548.6h0M369.5 548.4h0M370.9 548.4h0M372.4 548.2h0M373.9 548.1h0M375.3 547.8h0M376.8 547.4h0M378.2 547.4h0M379.6 547.3h0M347.8 547h0M349.2 547.4h0M350.6 547.6h0M352.1 547.7h0M353.6 547.7h0M355 547.9h0M356.4 548.1h0M357.9 548.4h0M359.4 548.4h0M360.8 548.6h0M362.2 548.9h0M363.7 548.9h0M365.1 549.1h0M366.6 549.5h0M368.1 549.7h0M369.5 549.7h0M370.9 549.5h0M372.4 549.2h0M373.9 549.1h0M375.3 548.8h0M376.8 548.9h0M378.2 548.7h0M379.6 548.3h0M381.1 548.5h0M382.6 548h0M384 548.1h0M385.4 548h0M386.9 547.8h0M388.4 547.3h0M352.1 548.7h0M353.6 549.2h0M355 549.1h0M356.4 549.4h0M357.9 549.4h0M359.4 549.7h0M360.8 549.8h0M362.2 550.2h0M363.7 550.3h0M365.1 550.3h0M366.6 550.5h0M368.1 550.5h0M369.5 551h0M370.9 550.7h0M372.4 550.3h0M373.9 550.2h0M375.3 550.1h0M376.8 550h0M378.2 549.9h0M379.6 549.8h0M381.1 549.7h0M382.6 549.2h0M350.6 549.9h0M352.1 550.3h0M353.6 550.1h0M355 550.4h0M356.4 550.7h0M357.9 550.5h0M359.4 550.8h0M360.8 551.3h0M362.2 551.4h0M363.7 551.4h0M365.1 551.4h0M366.6 551.9h0M368.1 552h0M369.5 552.3h0M370.9 552.2h0M372.4 551.9h0M373.9 551.5h0M375.3 551.2h0M376.8 551.1h0M378.2 551.1h0M379.6 550.9h0M381.1 550.6h0M382.6 550.4h0M384 550.4h0M385.4 550.2h0M386.9 549.9h0M350.6 551.1h0M352.1 551.2h0M353.6 551.6h0M355 551.5h0M356.4 551.5h0M357.9 551.7h0M359.4 551.8h0M360.8 552.1h0M362.2 552.6h0M363.7 552.6h0M365.1 553h0M366.6 553.1h0M368.1 553.1h0M369.5 553.1h0M370.9 553h0M372.4 553h0M373.9 552.6h0M375.3 552.6h0M376.8 552.4h0M378.2 552h0M379.6 551.9h0M381.1 552.1h0M382.6 551.7h0M384 551.5h0M385.4 551.4h0M386.9 551.4h0M388.4 551.1h0M349.2 551.9h0M350.6 552.1h0M352.1 552.2h0M353.6 552.8h0M355 552.8h0M356.4 552.9h0M357.9 553.1h0M359.4 553.2h0M360.8 553.2h0M362.2 553.8h0M363.7 553.8h0M365.1 554.2h0M366.6 554.1h0M368.1 554.4h0M369.5 554.4h0M370.9 554.1h0M372.4 554.4h0M373.9 554.2h0M375.3 553.7h0M376.8 553.8h0M378.2 553.6h0M379.6 553.2h0M381.1 553.2h0M382.6 553.2h0M384 552.8h0M385.4 552.8h0M386.9 552.3h0M355 553.9h0M356.4 554.2h0M357.9 554.1h0M359.4 554.7h0M360.8 554.4h0M362.2 554.7h0M363.7 554.9h0M365.1 554.9h0M366.6 555.5h0M368.1 555.5h0M369.5 555.6h0M370.9 555.4h0M372.4 555.5h0M373.9 555.1h0M375.3 555.1h0M376.8 555.1h0M378.2 554.6h0M379.6 554.7h0M381.1 554.3h0M382.6 554.1h0M359.4 555.8h0M360.8 555.8h0M362.2 555.9h0M363.7 556.3h0M365.1 556.2h0M366.6 556.4h0M368.1 556.9h0M369.5 556.7h0M370.9 556.7h0M372.4 556.7h0M373.9 556.5h0M375.3 556h0M376.8 556h0M378.2 556h0M379.6 555.6h0" stroke="#ff0000" stroke-width="1.6" stroke-linecap="round" fill="none"/>
<path d="M362.2 557.2h0M363.7 557.3h0M365.1 557.6h0M366.6 557.8h0M368.1 557.8h0M369.5 558h0M370.9 558h0M372.4 557.6h0M373.9 557.3h0M375.3 557.2h0M359.4 557.9h0M360.8 558h0M362.2 558.4h0M363.7 558.4h0M365.1 558.8h0M366.6 558.9h0M368.1 559h0M369.5 559.2h0M370.9 558.9h0M372.4 558.7h0M373.9 558.9h0M375.3 558.4h0M376.8 558.4h0M378.2 557.9h0M379.6 557.9h0M381.1 557.6h0M357.9 558.9h0M359.4 559.3h0M360.8 559.3h0M362.2 559.5h0M363.7 560h0M365.1 560h0M366.6 560.3h0M368.1 560.5h0M369.5 560.8h0M370.9 560.6h0M372.4 560h0M373.9 559.9h0M375.3 559.9h0M376.8 559.7h0M378.2 559.6h0M356.4 560.2h0M357.9 560.2h0M359.4 560.5h0M360.8 560.5h0M362.2 560.7h0M363.7 561.3h0M365.1 561.4h0M366.6 561.6h0M368.1 561.5h0M369.5 561.7h0M370.9 561.5h0M372.4 561.3h0M373.9 561.2h0M375.3 561h0M376.8 560.7h0M378.2 560.6h0M379.6 560.5h0M381.1 560.1h0M365.1 562.6h0M366.6 562.9h0M368.1 562.9h0M369.5 563h0M370.9 563.2h0M372.4 562.9h0M373.9 562.5h0M360.8 563.5h0M362.2 563.6h0M363.7 563.5h0M365.1 563.8h0M366.6 564.2h0M368.1 564.2h0M369.5 564.7h0M370.9 564.3h0M372.4 564.2h0M373.9 564.1h0M375.3 563.7h0M376.8 563.3h0M378.2 563.3h0M379.6 563h0M365.1 565.3h0M366.6 565.6h0M368.1 565.7h0M369.5 565.8h0M370.9 565.7h0M372.4 565.2h0M373.9 565.3h0M366.6 566.9h0M368.1 566.9h0M369.5 566.9h0M370.9 566.7h0M372.4 566.8h0M373.9 566.4h0M366.6 567.9h0M368.1 568h0M369.5 568.3h0M370.9 568h0M372.4 568.1h0M368.1 569.5h0M369.5 569.9h0M370.9 569.4h0M368.1 570.7h0M369.5 571.1h0" stroke="#ff0000" stroke-width="1.6" stroke-linecap="round" fill="none"/>
<path d="M322.5 545h0M321.5 548h0M323.5 548.3h0M322.5 551h0M320 554h0M322 554.5h0M324.5 554.2h0M318.5 555.5h0M326.5 555.3h0M321.3 556.8h0M323.7 557h0M322.5 559h0M322.5 563.8h0" stroke="#2a2af0" stroke-width="1.7" stroke-linecap="round" fill="none"/>
<line x1="350.8" y1="536.5" x2="388.2" y2="536.5" stroke="#777" stroke-width="0.8"/>
<line x1="350.8" y1="554.5" x2="388.2" y2="554.5" stroke="#222" stroke-width="0.8"/>
<line x1="349" y1="550.5" x2="390" y2="550.5" stroke="#222" stroke-width="0.8"/>
<line x1="369.5" y1="536.5" x2="369.5" y2="554.5" stroke="#111" stroke-width="0.8"/>
<line x1="319" y1="549.5" x2="326" y2="549.5" stroke="#777" stroke-width="0.7"/>
<line x1="319" y1="558.5" x2="326" y2="558.5" stroke="#777" stroke-width="0.7"/>
<line x1="317.5" y1="555.5" x2="327.5" y2="555.5" stroke="#222" stroke-width="0.7"/>
<line x1="322.5" y1="549.5" x2="322.5" y2="558.5" stroke="#111" stroke-width="0.7"/>
<text x="322.7" y="587.5" text-anchor="middle">Normal</text>
<text x="322.5" y="602.5" text-anchor="middle">(n=14)</text>
<text x="373.3" y="587.5" text-anchor="middle">Tumor</text>
<text x="372.7" y="602.5" text-anchor="middle">(n=293)</text>
<path d="M436 468V578H544" stroke="#c9c9c9" stroke-width="1" fill="none"/>
<line x1="433.5" y1="574.5" x2="436" y2="574.5" stroke="#c9c9c9" stroke-width="1"/>
<text x="432.7" y="579" text-anchor="end">00</text>
<line x1="433.5" y1="557.4" x2="436" y2="557.4" stroke="#c9c9c9" stroke-width="1"/>
<text x="432.7" y="561.9" text-anchor="end">20</text>
<line x1="433.5" y1="540.2" x2="436" y2="540.2" stroke="#c9c9c9" stroke-width="1"/>
<text x="432.7" y="544.7" text-anchor="end">40</text>
<line x1="433.5" y1="523" x2="436" y2="523" stroke="#c9c9c9" stroke-width="1"/>
<text x="432.7" y="527.5" text-anchor="end">60</text>
<line x1="433.5" y1="505.9" x2="436" y2="505.9" stroke="#c9c9c9" stroke-width="1"/>
<text x="432.7" y="510.4" text-anchor="end">80</text>
<line x1="433.5" y1="488.8" x2="436" y2="488.8" stroke="#c9c9c9" stroke-width="1"/>
<text x="432.7" y="493.2" text-anchor="end">100</text>
<line x1="433.5" y1="471.6" x2="436" y2="471.6" stroke="#c9c9c9" stroke-width="1"/>
<text x="432.7" y="476.1" text-anchor="end">120</text>
<text transform="translate(410 521.8) rotate(-90)" text-anchor="middle">Relative IGF2BP2</text>
<text x="441" y="477">GSE81089</text>
<text x="515" y="469.7" text-anchor="middle">***</text>
<path d="M515.5 473h0M515.5 508h0M515.5 513h0M515.5 517h0M515.5 520h0M515.5 522.5h0M515.5 526h0M514.7 530.5h0M516.3 531h0M515.5 533.5h0" stroke="#ff0000" stroke-width="1.7" stroke-linecap="round" fill="none"/>
<path d="M515.5 536.1h0M515.5 538.4h0M513.9 540.1h0M515.5 540.4h0M517.1 540.3h0M515.5 542.9h0M513.9 545h0M515.5 545.3h0M517.1 544.6h0M512.3 546.7h0M513.9 547.1h0M515.5 547.3h0M517.1 547.1h0M512.3 549.1h0M513.9 549.5h0M515.5 549.9h0M517.1 549.5h0M518.7 548.8h0" stroke="#ff0000" stroke-width="1.6" stroke-linecap="round" fill="none"/>
<path d="M512.6 552.5h0M514 552.6h0M515.5 552.9h0M517 552.9h0M518.4 552.8h0M512.6 554.1h0M514 554.1h0M515.5 554.3h0M517 554h0M518.4 553.9h0M511.1 555.2h0M512.6 555.2h0M514 555.5h0M515.5 555.7h0M517 555.7h0M518.4 555.5h0M519.9 555.5h0M511.1 556.6h0M512.6 556.9h0M514 556.7h0M515.5 557.1h0M517 556.7h0M518.4 556.8h0M519.9 557h0M505.4 557.7h0M506.8 557.8h0M508.2 557.7h0M509.7 558.1h0M511.1 558.3h0M512.6 558.2h0M514 558.1h0M515.5 558.2h0M517 558.1h0M518.4 558.3h0M519.9 558.3h0M521.3 557.8h0M522.8 557.7h0M524.2 558.1h0M511.1 559.5h0M512.6 559.7h0M514 559.6h0M515.5 559.6h0M517 559.5h0M518.4 559.5h0M519.9 559.5h0M521.3 559.7h0M506.8 560.7h0M508.2 560.9h0M509.7 560.6h0M511.1 561h0M512.6 561.1h0M514 561h0M515.5 561.2h0M517 561.3h0M518.4 561h0M519.9 561h0M521.3 560.8h0M522.8 560.7h0M524.2 560.9h0M503.9 562h0M505.4 561.8h0M506.8 562.1h0M508.2 562.2h0M509.7 562.5h0M511.1 562.3h0M512.6 562.3h0M514 562.5h0M515.5 562.5h0M517 562.4h0M518.4 562.7h0M519.9 562.2h0M521.3 562.4h0M522.8 562h0M524.2 562.2h0M525.6 562.1h0M527.1 561.7h0M528.5 561.9h0M506.8 563.5h0M508.2 563.4h0M509.7 563.7h0M511.1 563.8h0M512.6 563.6h0M514 563.9h0M515.5 563.8h0M517 563.9h0M518.4 564h0M519.9 563.8h0M521.3 563.8h0M522.8 563.7h0M499.6 564.4h0M501 564.6h0M502.4 564.6h0M503.9 564.9h0M505.4 564.6h0M506.8 564.9h0M508.2 564.8h0M509.7 565h0M511.1 565.2h0M512.6 565.2h0M514 565.1h0M515.5 565.2h0M517 565.4h0M518.4 565.5h0M519.9 565.1h0M521.3 564.9h0M522.8 564.8h0M524.2 565.1h0M525.6 564.6h0M527.1 564.9h0M528.5 564.5h0M530 564.3h0M505.4 566.1h0M506.8 566.4h0M508.2 566.5h0M509.7 566.6h0M511.1 566.4h0M512.6 566.6h0M514 566.8h0M515.5 567h0M517 566.8h0M518.4 566.4h0M519.9 566.6h0M521.3 566.3h0M522.8 566.4h0M524.2 566.4h0M525.6 566h0M527.1 566.3h0M505.4 567.4h0M506.8 567.9h0M508.2 567.7h0M509.7 568h0M511.1 567.9h0M512.6 567.8h0M514 568h0M515.5 568h0M517 568.3h0M518.4 568.2h0M519.9 568h0M521.3 568h0M522.8 567.8h0M524.2 567.6h0M525.6 567.8h0M527.1 567.6h0" stroke="#ff0000" stroke-width="1.6" stroke-linecap="round" fill="none"/>
<path d="M477.5 571.1Q515.5 574.9 544.5 571.1" stroke="#ff0000" stroke-width="1.5" fill="none" stroke-linecap="round"/>
<path d="M485.5 570.2Q515.5 573.2 541.5 570.2" stroke="#ff0000" stroke-width="1.3" fill="none" stroke-linecap="round"/>
<path d="M490.5 569.2Q515.5 571.7 537.5 569.2" stroke="#ff0000" stroke-width="1.3" fill="none" stroke-linecap="round"/>
<path d="M495.5 568.2Q515.5 570.1 533.5 568.2" stroke="#ff0000" stroke-width="1.3" fill="none" stroke-linecap="round"/>
<path d="M456.2 569.1h0M457.5 569.1h0M458.8 569.2h0M460.1 569.3h0M461.4 569.4h0M462.7 569.4h0M464 569.5h0M465.3 569.6h0M466.6 569.5h0M467.9 569.4h0M469.2 569.4h0M470.5 569.3h0M471.8 569.2h0M473.1 569.1h0M474.4 569.1h0M458.8 570.3h0M460.1 570.4h0M461.4 570.5h0M462.7 570.5h0M464 570.6h0M465.3 570.7h0M466.6 570.6h0M467.9 570.5h0M469.2 570.5h0M470.5 570.4h0M471.8 570.3h0" stroke="#2a2af0" stroke-width="1.5" stroke-linecap="round" fill="none"/>
<line x1="495" y1="560.5" x2="536" y2="560.5" stroke="#777" stroke-width="0.8"/>
<line x1="495" y1="572.5" x2="536" y2="572.5" stroke="#c33" stroke-width="0.8"/>
<line x1="495.5" y1="568.5" x2="535.5" y2="568.5" stroke="#666" stroke-width="0.8"/>
<line x1="515.5" y1="560.5" x2="515.5" y2="572.5" stroke="#111" stroke-width="0.8"/>
<text x="463.8" y="587.5" text-anchor="middle">Normal</text>
<text x="464" y="602.5" text-anchor="middle">(n=19)</text>
<text x="514.7" y="587.5" text-anchor="middle">Tumor</text>
<text x="514" y="602.5" text-anchor="middle">(n=199)</text>
<text x="634.2" y="462.5" text-anchor="middle">Lab’s Sample</text>
<path d="M588 478.9V576.7H681" stroke="#000" stroke-width="1.1" fill="none"/>
<line x1="585" y1="576.7" x2="588" y2="576.7" stroke="#000" stroke-width="1.2"/>
<text x="584.5" y="579.9" text-anchor="end" font-weight="bold" font-size="9.2">-0.001</text>
<line x1="585" y1="552.2" x2="588" y2="552.2" stroke="#000" stroke-width="1.2"/>
<text x="584.5" y="555.5" text-anchor="end" font-weight="bold" font-size="9.2">0.003</text>
<line x1="585" y1="527.8" x2="588" y2="527.8" stroke="#000" stroke-width="1.2"/>
<text x="584.5" y="531" text-anchor="end" font-weight="bold" font-size="9.2">0.007</text>
<line x1="585" y1="503.4" x2="588" y2="503.4" stroke="#000" stroke-width="1.2"/>
<text x="584.5" y="506.6" text-anchor="end" font-weight="bold" font-size="9.2">0.011</text>
<line x1="585" y1="478.9" x2="588" y2="478.9" stroke="#000" stroke-width="1.2"/>
<text x="584.5" y="482.1" text-anchor="end" font-weight="bold" font-size="9.2">0.015</text>
<line x1="612.7" y1="576.7" x2="612.7" y2="579.7" stroke="#000" stroke-width="1.2"/>
<line x1="659" y1="576.7" x2="659" y2="579.7" stroke="#000" stroke-width="1.2"/>
<text x="586.3" y="475.5" font-weight="bold" font-size="9.2">2</text>
<text x="590.6" y="470" font-weight="bold" font-size="6.2">-Δ CT</text>
<text transform="translate(557.5 527.7) rotate(-90)" text-anchor="middle" font-size="12.6">Relative IGF2BP2</text>
<path d="M612.7 478.5V474.6H659.5V478.5" stroke="#000" stroke-width="1.1" fill="none"/>
<text x="635" y="476.3" text-anchor="middle" font-size="11">*</text>
<path d="M612.7 543.2h0M608.5 545.5h0M606.5 548h0M611 548.3h0M615.5 548h0M619 549.3h0M600.5 550.5h0M604.5 551h0M609 551.2h0M613.3 551.3h0M617.5 551.5h0M622 552h0M602.5 553.5h0M607 553.8h0M611.3 554h0M615.5 554h0M620 554.5h0M624.5 554.3h0M599.5 556.5h0M604.3 556.6h0M609 556.8h0M613.3 557h0M617.7 557h0M622 557.3h0M626 557.5h0M602 559.5h0M606.5 559.7h0M611 560h0M615.3 560h0M620 560.3h0M624.5 560.5h0M600.5 562.8h0M605 562.5h0M609.5 563h0M614 563h0M618.5 563.3h0M623 563.3h0M608 565.8h0M612.7 566h0M617 565.8h0" stroke="#000" stroke-width="2.7" stroke-linecap="round" fill="none"/>
<line x1="597" y1="558" x2="627.7" y2="558" stroke="#000" stroke-width="1.2"/>
<line x1="612.7" y1="551" x2="612.7" y2="564" stroke="#000" stroke-width="1.2"/>
<line x1="609" y1="551" x2="616.5" y2="551" stroke="#000" stroke-width="1.2"/>
<line x1="609" y1="564" x2="616.5" y2="564" stroke="#000" stroke-width="1.2"/>
<path d="M654.7 479h0M659 482h0M659 499.5h0M655 532.5h0M659.3 534h0M663.5 537.5h0M654.3 540.5h0M660 543.5h0M652 547h0M664 547.5h0M647 553.5h0M651.5 554.5h0M656.5 553.8h0M661 554.5h0M666 555.5h0M671 555h0M649 559.5h0M654 560.5h0M659 560.5h0M664.5 561h0M669.5 561.5h0M646.5 560.5h0M651 565h0M656 565.3h0M662 565.5h0M667 566h0M671.5 566.5h0M649.5 569.5h0M654.5 570h0M659.5 570.5h0M665 569.5h0M650 562.5h0M657.5 557.3h0M668 568.8h0M655.5 567.7h0" stroke="#f33" stroke-width="2.9" stroke-linecap="square" fill="none"/>
<line x1="643" y1="549" x2="674.7" y2="549" stroke="#f22" stroke-width="1.2"/>
<line x1="659" y1="527.5" x2="659" y2="571" stroke="#f22" stroke-width="1.2"/>
<line x1="650.7" y1="527.5" x2="667" y2="527.5" stroke="#f22" stroke-width="1.2"/>
<line x1="650.7" y1="571" x2="667" y2="571" stroke="#f22" stroke-width="1.2"/>
<text x="612" y="587.5" text-anchor="middle">Normal</text>
<text x="612.5" y="603" text-anchor="middle">(n=35)</text>
<text x="661.5" y="587.5" text-anchor="middle">Tumor</text>
<text x="661" y="603" text-anchor="middle">(n=35)</text>
<rect x="36.7" y="644" width="181.5" height="148.5" fill="none" stroke="#979797" stroke-width="0.9"/>
<line x1="33.2" y1="787" x2="36.7" y2="787" stroke="#979797" stroke-width="1"/>
<text x="31.8" y="791.1" text-anchor="end">0.0</text>
<line x1="33.2" y1="759.5" x2="36.7" y2="759.5" stroke="#979797" stroke-width="1"/>
<text x="31.8" y="763.6" text-anchor="end">0.2</text>
<line x1="33.2" y1="732.1" x2="36.7" y2="732.1" stroke="#979797" stroke-width="1"/>
<text x="31.8" y="736.2" text-anchor="end">0.4</text>
<line x1="33.2" y1="704.6" x2="36.7" y2="704.6" stroke="#979797" stroke-width="1"/>
<text x="31.8" y="708.7" text-anchor="end">0.6</text>
<line x1="33.2" y1="677.2" x2="36.7" y2="677.2" stroke="#979797" stroke-width="1"/>
<text x="31.8" y="681.3" text-anchor="end">0.8</text>
<line x1="33.2" y1="649.7" x2="36.7" y2="649.7" stroke="#979797" stroke-width="1"/>
<text x="31.8" y="653.8" text-anchor="end">1.0</text>
<line x1="43" y1="792.5" x2="43" y2="796" stroke="#979797" stroke-width="1"/>
<text x="43" y="806" text-anchor="middle">0</text>
<line x1="89.4" y1="792.5" x2="89.4" y2="796" stroke="#979797" stroke-width="1"/>
<text x="89.4" y="806" text-anchor="middle">2000</text>
<line x1="135.7" y1="792.5" x2="135.7" y2="796" stroke="#979797" stroke-width="1"/>
<text x="135.7" y="806" text-anchor="middle">4000</text>
<line x1="182.1" y1="792.5" x2="182.1" y2="796" stroke="#979797" stroke-width="1"/>
<text x="182.1" y="806" text-anchor="middle">6000</text>
<line x1="68.5" y1="644.5" x2="68.5" y2="792" stroke="#707070" stroke-width="1" stroke-dasharray="1.3 1.7"/>
<line x1="85.5" y1="644.5" x2="85.5" y2="792" stroke="#707070" stroke-width="1" stroke-dasharray="1.3 1.7"/>
<text x="121.7" y="640.2" text-anchor="middle">TCGA</text>
<text x="133.3" y="821.5" text-anchor="middle">Overall survtime in Days</text>
<text transform="translate(11.5 716) rotate(-90)" text-anchor="middle">Survival probability</text>
<path d="M43 649.7L44.4 649.7L44.4 650L46.1 650L46.1 651.2L47.9 651.2L47.9 652.4L49.4 652.4L49.4 654.3L50.8 654.3L50.8 656.2L52.2 656.2L52.2 658.1L53.7 658.1L53.7 660L55.5 660L55.5 664.4L57.2 664.4L57.2 668.7L59 668.7L59 672.2L60.7 672.2L60.7 675.7L62.3 675.7L62.3 678L63.8 678L63.8 680.4L65.4 680.4L65.4 682.7L67.2 682.7L67.2 689.7L68.6 689.7L68.6 692L70 692L70 694.4L72.2 694.4L72.2 700.5L73.8 700.5L73.8 701.9L75.3 701.9L75.3 703.2L76.9 703.2L76.9 704.6L78 704.6L78 710.4L79.5 710.4L79.5 713.3L81 713.3L81 716.3L82.3 716.3L82.3 718.6L83.7 718.6L83.7 721L85 721L85 723.3L85.6 723.3L85.6 729.1L88 729.1L88 729.5L92 729.5L92 730.3L96.7 730.3L96.7 734.4L104.3 734.4L104.3 734.7L104.9 734.7L104.9 738.8L116.6 738.8L116.6 739L117.8 739L117.8 744.7L158 744.7L158 766L208 766" stroke="#2b2bff" stroke-width="1.1" fill="none" stroke-dasharray="2.8 2.9"/>
<path d="M43 649.7L45 649.7L45 653.5L46.7 653.5L46.7 659.4L48.5 659.4L48.5 663.5L50.2 663.5L50.2 667.5L51.8 667.5L51.8 670.6L53.3 670.6L53.3 673.8L54.9 673.8L54.9 676.9L56.6 676.9L56.6 681.5L58.4 681.5L58.4 686.2L60.1 686.2L60.1 691.5L61.9 691.5L61.9 696.7L63.7 696.7L63.7 700.2L65.4 700.2L65.4 703.8L66.8 703.8L66.8 704.9L68.3 704.9L68.3 706L70.4 706L70.4 711L71.9 711L71.9 715.1L73.4 715.1L73.4 719.2L75.2 719.2L75.2 722.7L76.9 722.7L76.9 726.2L79.2 726.2L79.2 731.5L81 731.5L81 733L82.7 733L82.7 734.4L90.3 734.4L90.9 734.4L90.9 738.5L98.5 738.5L98.5 744.7L104 744.7L104.3 744.7L104.3 750.7L105.5 750.7L105.5 757L121.3 757L121.3 772L212 772" stroke="#ff2020" stroke-width="1.1" fill="none"/>
<path d="M42.2 649.7h3.6M44 647.9v3.6M43.2 650h3.6M45 648.2v3.6M44.3 650h3.6M46.1 648.2v3.6M45.4 651.2h3.6M47.1 649.4v3.6M46.4 652.4h3.6M48.2 650.6v3.6M47.5 652.4h3.6M49.2 650.6v3.6M48.5 654.3h3.6M50.3 652.5v3.6M49.6 656.2h3.6M51.4 654.4v3.6M50.6 658.1h3.6M52.4 656.3v3.6M51.7 658.1h3.6M53.5 656.3v3.6M52.7 660h3.6M54.5 658.2v3.6M53.8 664.4h3.6M55.5 662.6v3.6M54.8 664.4h3.6M56.6 662.6v3.6M55.9 668.7h3.6M57.6 666.9v3.6M56.9 668.7h3.6M58.7 666.9v3.6M58 672.2h3.6M59.8 670.4v3.6M59 675.7h3.6M60.8 673.9v3.6M60.1 675.7h3.6M61.9 673.9v3.6M61.1 678h3.6M62.9 676.2v3.6M62.2 680.4h3.6M64 678.6v3.6M63.2 680.4h3.6M65 678.6v3.6M64.2 682.7h3.6M66 680.9v3.6M65.3 682.7h3.6M67.1 680.9v3.6M66.4 689.7h3.6M68.2 687.9v3.6M67.4 692h3.6M69.2 690.2v3.6M68.5 694.4h3.6M70.2 692.6v3.6M70.7 700.5h3.6M72.5 698.7v3.6M71.7 700.5h3.6M73.5 698.7v3.6M72.7 701.9h3.6M74.5 700.1v3.6M73.7 703.2h3.6M75.5 701.4v3.6M74.7 703.2h3.6M76.5 701.4v3.6M86.2 729.5h3.6M88 727.7v3.6M88.7 729.5h3.6M90.5 727.7v3.6M91.2 730.3h3.6M93 728.5v3.6M93.2 730.3h3.6M95 728.5v3.6M95.2 734.4h3.6M97 732.6v3.6M97.7 734.4h3.6M99.5 732.6v3.6M99.2 734.4h3.6M101 732.6v3.6M100.7 734.4h3.6M102.5 732.6v3.6M102.2 734.4h3.6M104 732.6v3.6M105.2 738.8h3.6M107 737v3.6M108.7 738.8h3.6M110.5 737v3.6M111.7 738.8h3.6M113.5 737v3.6M113.7 738.8h3.6M115.5 737v3.6M117.7 744.7h3.6M119.5 742.9v3.6M125.7 744.7h3.6M127.5 742.9v3.6M127.2 744.7h3.6M129 742.9v3.6M132.2 744.7h3.6M134 742.9v3.6M137.2 744.7h3.6M139 742.9v3.6M205.2 766h3.6M207 764.2v3.6" stroke="#2b2bff" stroke-width="0.8" fill="none"/>
<path d="M42.7 649.7h3.6M44.5 647.9v3.6M43.8 653.5h3.6M45.5 651.7v3.6M44.8 653.5h3.6M46.6 651.7v3.6M45.9 659.4h3.6M47.6 657.6v3.6M46.9 663.5h3.6M48.7 661.7v3.6M48 663.5h3.6M49.8 661.7v3.6M49 667.5h3.6M50.8 665.7v3.6M50.1 670.6h3.6M51.9 668.8v3.6M51.1 670.6h3.6M52.9 668.8v3.6M52.2 673.8h3.6M54 672v3.6M53.2 676.9h3.6M55 675.1v3.6M54.2 676.9h3.6M56 675.1v3.6M55.3 681.5h3.6M57.1 679.8v3.6M56.4 681.5h3.6M58.1 679.8v3.6M57.4 686.2h3.6M59.2 684.4v3.6M58.5 691.5h3.6M60.2 689.7v3.6M59.5 691.5h3.6M61.3 689.7v3.6M60.6 696.7h3.6M62.4 694.9v3.6M61.6 696.7h3.6M63.4 694.9v3.6M62.7 700.2h3.6M64.5 698.5v3.6M63.7 703.8h3.6M65.5 702v3.6M64.8 703.8h3.6M66.5 702v3.6M65.8 704.9h3.6M67.6 703.1v3.6M66.9 706h3.6M68.7 704.2v3.6M67.9 706h3.6M69.7 704.2v3.6M69 711h3.6M70.8 709.2v3.6M70 711h3.6M71.8 709.2v3.6M71 715.1h3.6M72.8 713.3v3.6M72.1 719.2h3.6M73.9 717.4v3.6M73.2 719.2h3.6M75 717.4v3.6M74.2 722.7h3.6M76 720.9v3.6M75.3 726.2h3.6M77.1 724.4v3.6M76.3 726.2h3.6M78.1 724.4v3.6M77.4 726.2h3.6M79.2 724.4v3.6M78.4 731.5h3.6M80.2 729.7v3.6M79.5 733h3.6M81.2 731.2v3.6M81.7 734.4h3.6M83.5 732.6v3.6M84.2 734.4h3.6M86 732.6v3.6M86.7 734.4h3.6M88.5 732.6v3.6M91.7 738.5h3.6M93.5 736.7v3.6M105.2 757h3.6M107 755.2v3.6M107.7 757h3.6M109.5 755.2v3.6M110.2 757h3.6M112 755.2v3.6M113.2 757h3.6M115 755.2v3.6M209.7 772h3.6M211.5 770.2v3.6" stroke="#ff2020" stroke-width="0.8" fill="none"/>
<line x1="145.7" y1="654" x2="160.5" y2="654" stroke="#2b2bff" stroke-width="1.1" stroke-dasharray="2.6 3.4"/>
<line x1="145.7" y1="664.3" x2="161" y2="664.3" stroke="#ff2020" stroke-width="1.1"/>
<text x="161" y="656.5" font-size="10.2">Low(n=231)</text>
<text x="161" y="668.2" font-size="10.2">High(n=229)</text>
<text x="161" y="680.2" font-size="10.2">P = 0.0084</text>
<rect x="265" y="644" width="182.2" height="147" fill="none" stroke="#979797" stroke-width="0.9"/>
<line x1="261.5" y1="785" x2="265" y2="785" stroke="#979797" stroke-width="1"/>
<text x="259.7" y="789.1" text-anchor="end">0.0</text>
<line x1="261.5" y1="757.9" x2="265" y2="757.9" stroke="#979797" stroke-width="1"/>
<text x="259.7" y="762" text-anchor="end">0.2</text>
<line x1="261.5" y1="730.8" x2="265" y2="730.8" stroke="#979797" stroke-width="1"/>
<text x="259.7" y="734.9" text-anchor="end">0.4</text>
<line x1="261.5" y1="703.7" x2="265" y2="703.7" stroke="#979797" stroke-width="1"/>
<text x="259.7" y="707.8" text-anchor="end">0.6</text>
<line x1="261.5" y1="676.6" x2="265" y2="676.6" stroke="#979797" stroke-width="1"/>
<text x="259.7" y="680.7" text-anchor="end">0.8</text>
<line x1="261.5" y1="649.5" x2="265" y2="649.5" stroke="#979797" stroke-width="1"/>
<text x="259.7" y="653.6" text-anchor="end">1.0</text>
<line x1="271.7" y1="791" x2="271.7" y2="794.5" stroke="#979797" stroke-width="1"/>
<text x="271.7" y="806" text-anchor="middle">0</text>
<line x1="297" y1="791" x2="297" y2="794.5" stroke="#979797" stroke-width="1"/>
<text x="297" y="806" text-anchor="middle">1000</text>
<line x1="322.3" y1="791" x2="322.3" y2="794.5" stroke="#979797" stroke-width="1"/>
<line x1="347.7" y1="791" x2="347.7" y2="794.5" stroke="#979797" stroke-width="1"/>
<text x="347.7" y="806" text-anchor="middle">3000</text>
<line x1="373" y1="791" x2="373" y2="794.5" stroke="#979797" stroke-width="1"/>
<line x1="398.3" y1="791" x2="398.3" y2="794.5" stroke="#979797" stroke-width="1"/>
<text x="398.3" y="806" text-anchor="middle">5000</text>
<line x1="423.6" y1="791" x2="423.6" y2="794.5" stroke="#979797" stroke-width="1"/>
<line x1="299.5" y1="644.5" x2="299.5" y2="790.5" stroke="#707070" stroke-width="1" stroke-dasharray="1.3 1.7"/>
<line x1="317.5" y1="644.5" x2="317.5" y2="790.5" stroke="#707070" stroke-width="1" stroke-dasharray="1.3 1.7"/>
<text x="360" y="640.2" text-anchor="middle">GSE30219</text>
<text x="353.6" y="821" text-anchor="middle">Overall survtime in Days</text>
<text transform="translate(236 716) rotate(-90)" text-anchor="middle">Survival probability</text>
<path d="M271.7 649.5L277 649.5L281 649.5L281 653L285 653L285 656.5L289 656.5L289 660L293 660L293 663L296 663L296 666L302 666L304 666L304 669.5L307.5 669.5L307.5 672.7L338.7 672.7L340 672.7L340 676L343 676L343 681L346 681L346 686L349 686L349 692L352 692L352 696L353.7 696L353.7 699L385.3 699L385.3 709.7L418.7 709.7L418.7 722L419.5 722L419.5 735L420 735L420 747.5L441 747.5" stroke="#2b2bff" stroke-width="1.1" fill="none" stroke-dasharray="2.8 2.9"/>
<path d="M271.7 649.5L273.5 649.5L273.5 652.5L275 652.5L275 656L279.5 656L280.5 656L280.5 660L281.3 660L281.3 666L282.5 666L282.5 671.5L285 671.5L286 671.5L286 676L287.5 676L287.5 681L288 681L288 686L289.5 686L289.5 692L290 692L290 698L292.5 698L292.5 703L295.5 703L295.5 705.5L299 705.5L299 707.7L300.5 707.7L300.5 711L302.5 711L302.5 714L311.3 714L312.5 714L312.5 717.7L314.5 717.7L314.5 721L327.5 721L328 721L328 726L336 726L337 726L337 731.5L339.5 731.5L340 731.5L340 736.5L368 736.5L368 746.5L404.5 746.5L404.5 772L428.7 772" stroke="#ff2020" stroke-width="1.1" fill="none"/>
<path d="M306.7 672.7h3.6M308.5 670.9v3.6M308.2 672.7h3.6M310 670.9v3.6M310.2 672.7h3.6M312 670.9v3.6M312.2 672.7h3.6M314 670.9v3.6M314.2 672.7h3.6M316 670.9v3.6M316.2 672.7h3.6M318 670.9v3.6M319.7 672.7h3.6M321.5 670.9v3.6M322.7 672.7h3.6M324.5 670.9v3.6M334.2 672.7h3.6M336 670.9v3.6M335.7 672.7h3.6M337.5 670.9v3.6M336.8 672.7h3.6M338.6 670.9v3.6M339.7 676h3.6M341.5 674.2v3.6M345.7 686h3.6M347.5 684.2v3.6M347.2 692h3.6M349 690.2v3.6M354.2 699h3.6M356 697.2v3.6M356.2 699h3.6M358 697.2v3.6M357.7 699h3.6M359.5 697.2v3.6M359.7 699h3.6M361.5 697.2v3.6M361.7 699h3.6M363.5 697.2v3.6M364.2 699h3.6M366 697.2v3.6M366.2 699h3.6M368 697.2v3.6M368.2 699h3.6M370 697.2v3.6M370.2 699h3.6M372 697.2v3.6M372.2 699h3.6M374 697.2v3.6M402.2 709.7h3.6M404 707.9v3.6M404.2 709.7h3.6M406 707.9v3.6M422.7 747.5h3.6M424.5 745.7v3.6M437.7 747.5h3.6M439.5 745.7v3.6" stroke="#2b2bff" stroke-width="0.8" fill="none"/>
<path d="M297.7 707.7h3.6M299.5 705.9v3.6M309.2 714h3.6M311 712.2v3.6M314.7 721h3.6M316.5 719.2v3.6M317.2 721h3.6M319 719.2v3.6M319.7 721h3.6M321.5 719.2v3.6M322.2 721h3.6M324 719.2v3.6M324.7 721h3.6M326.5 719.2v3.6M334.7 726h3.6M336.5 724.2v3.6M345.5 736.5h3.6M347.3 734.7v3.6M347 736.5h3.6M348.8 734.7v3.6M359.7 736.5h3.6M361.5 734.7v3.6M373.7 746.5h3.6M375.5 744.7v3.6M425.7 772h3.6M427.5 770.2v3.6" stroke="#ff2020" stroke-width="0.8" fill="none"/>
<line x1="374.7" y1="654" x2="390" y2="654" stroke="#2b2bff" stroke-width="1.1" stroke-dasharray="2.6 3.4"/>
<line x1="374.7" y1="664.3" x2="390.5" y2="664.3" stroke="#ff2020" stroke-width="1.1"/>
<text x="390.5" y="656.5" font-size="10.2">Low(n=41)</text>
<text x="390.5" y="668.2" font-size="10.2">High(n=42)</text>
<text x="390.5" y="680.2" font-size="10.2">P = 0.00038</text>
<rect x="495.7" y="644" width="182.3" height="147.3" fill="none" stroke="#979797" stroke-width="0.9"/>
<line x1="492.2" y1="785.7" x2="495.7" y2="785.7" stroke="#979797" stroke-width="1"/>
<text x="490.5" y="789.8" text-anchor="end">0.0</text>
<line x1="492.2" y1="758.6" x2="495.7" y2="758.6" stroke="#979797" stroke-width="1"/>
<text x="490.5" y="762.7" text-anchor="end">0.2</text>
<line x1="492.2" y1="731.4" x2="495.7" y2="731.4" stroke="#979797" stroke-width="1"/>
<text x="490.5" y="735.5" text-anchor="end">0.4</text>
<line x1="492.2" y1="704.3" x2="495.7" y2="704.3" stroke="#979797" stroke-width="1"/>
<text x="490.5" y="708.4" text-anchor="end">0.6</text>
<line x1="492.2" y1="677.1" x2="495.7" y2="677.1" stroke="#979797" stroke-width="1"/>
<text x="490.5" y="681.2" text-anchor="end">0.8</text>
<line x1="492.2" y1="650" x2="495.7" y2="650" stroke="#979797" stroke-width="1"/>
<text x="490.5" y="654.1" text-anchor="end">1.0</text>
<line x1="502.5" y1="791.3" x2="502.5" y2="794.8" stroke="#979797" stroke-width="1"/>
<text x="502.5" y="806" text-anchor="middle">0</text>
<line x1="545" y1="791.3" x2="545" y2="794.8" stroke="#979797" stroke-width="1"/>
<text x="545" y="806" text-anchor="middle">1000</text>
<line x1="587.5" y1="791.3" x2="587.5" y2="794.8" stroke="#979797" stroke-width="1"/>
<text x="587.5" y="806" text-anchor="middle">2000</text>
<line x1="630" y1="791.3" x2="630" y2="794.8" stroke="#979797" stroke-width="1"/>
<text x="630" y="806" text-anchor="middle">3000</text>
<line x1="672.5" y1="791.3" x2="672.5" y2="794.8" stroke="#979797" stroke-width="1"/>
<text x="672.5" y="806" text-anchor="middle">4000</text>
<line x1="549.5" y1="644.5" x2="549.5" y2="790.8" stroke="#707070" stroke-width="1" stroke-dasharray="1.3 1.7"/>
<line x1="580.5" y1="644.5" x2="580.5" y2="790.8" stroke="#707070" stroke-width="1" stroke-dasharray="1.3 1.7"/>
<text x="583.5" y="640.2" text-anchor="middle">GSE50081</text>
<text x="591.8" y="818" text-anchor="middle">Overall survtime in Days</text>
<text transform="translate(467.7 716) rotate(-90)" text-anchor="middle">Survival probability</text>
<path d="M502.5 649.5L508 649.5L510 649.5L510 653L512 653L512 658L514.5 658L514.5 662L518 662L518 665L521 665L521 667.3L528 667.3L530.5 667.3L530.5 669.5L532.5 669.5L532.5 672.7L536 672.7L536 674.5L548.7 674.5L550 674.5L550 678.5L561 678.5L563 678.5L563 682.5L566 682.5L566 686L576 686L577.5 686L577.5 689L591 689L592.2 689L592.2 694L593 694L593 699L595 699L595 705.7L671 705.7" stroke="#2b2bff" stroke-width="1.1" fill="none" stroke-dasharray="2.8 2.9"/>
<path d="M502.5 649.5L505 649.5L505 651.5L515 651.5L517 651.5L517 655L519.5 655L519.5 658.5L521.3 658.5L521.3 662L522.5 662L522.5 666L530 666L531 666L531 669.5L532 669.5L532 677L533.7 677L533.7 683L542.5 683L544 683L544 685.5L547 685.5L547 688.5L548.5 688.5L548.5 692L550.5 692L550.5 696L552 696L552 699.5L556 699.5L556 702.7L564.3 702.7L564.3 703.5L565 703.5L565 708.5L568.5 708.5L568.5 711.5L570 711.5L570 715L577.5 715L578.7 715L578.7 718.3L584 718.3L584 719L585 719L585 721.5L588 721.5L588 724.5L590 724.5L590 726.7L600 726.7L600.5 726.7L600.5 733.5L620 733.5L620 759.7L623 759.7" stroke="#ff2020" stroke-width="1.1" fill="none"/>
<path d="M502.7 649.5h3.6M504.5 647.7v3.6M520.7 667.3h3.6M522.5 665.5v3.6M522.7 667.3h3.6M524.5 665.5v3.6M525.2 667.3h3.6M527 665.5v3.6M540.2 674.5h3.6M542 672.7v3.6M545.2 674.5h3.6M547 672.7v3.6M549.7 678.5h3.6M551.5 676.7v3.6M552.7 678.5h3.6M554.5 676.7v3.6M555.7 678.5h3.6M557.5 676.7v3.6M565.7 686h3.6M567.5 684.2v3.6M571.7 686h3.6M573.5 684.2v3.6M576.2 689h3.6M578 687.2v3.6M577.7 689h3.6M579.5 687.2v3.6M579.2 689h3.6M581 687.2v3.6M580.7 689h3.6M582.5 687.2v3.6M582.2 689h3.6M584 687.2v3.6M583.7 689h3.6M585.5 687.2v3.6M585.2 689h3.6M587 687.2v3.6M586.7 689h3.6M588.5 687.2v3.6M588.2 689h3.6M590 687.2v3.6M590.2 689h3.6M592 687.2v3.6M591.7 699h3.6M593.5 697.2v3.6M595.7 705.7h3.6M597.5 703.9v3.6M597.7 705.7h3.6M599.5 703.9v3.6M599.7 705.7h3.6M601.5 703.9v3.6M601.7 705.7h3.6M603.5 703.9v3.6M603.7 705.7h3.6M605.5 703.9v3.6M605.7 705.7h3.6M607.5 703.9v3.6M621.7 705.7h3.6M623.5 703.9v3.6M628.7 705.7h3.6M630.5 703.9v3.6M669.2 705.7h3.6M671 703.9v3.6" stroke="#2b2bff" stroke-width="0.8" fill="none"/>
<path d="M506.2 651.5h3.6M508 649.7v3.6M510.2 651.5h3.6M512 649.7v3.6M512.2 651.5h3.6M514 649.7v3.6M522.2 666h3.6M524 664.2v3.6M524.2 666h3.6M526 664.2v3.6M526.7 666h3.6M528.5 664.2v3.6M541.5 683h3.6M543.3 681.2v3.6M547.7 692h3.6M549.5 690.2v3.6M551.7 699.5h3.6M553.5 697.7v3.6M564.7 708.5h3.6M566.5 706.7v3.6M570.7 715h3.6M572.5 713.2v3.6M576.5 715h3.6M578.3 713.2v3.6M579.2 718.3h3.6M581 716.5v3.6M581.7 718.3h3.6M583.5 716.5v3.6M590.2 726.7h3.6M592 724.9v3.6M592.7 726.7h3.6M594.5 724.9v3.6M595.2 726.7h3.6M597 724.9v3.6M597.2 726.7h3.6M599 724.9v3.6M601.2 733.5h3.6M603 731.7v3.6M604.7 733.5h3.6M606.5 731.7v3.6M614.2 733.5h3.6M616 731.7v3.6M616.7 733.5h3.6M618.5 731.7v3.6M620.7 759.7h3.6M622.5 757.9v3.6" stroke="#ff2020" stroke-width="0.8" fill="none"/>
<line x1="609.5" y1="654" x2="625" y2="654" stroke="#2b2bff" stroke-width="1.1" stroke-dasharray="2.6 3.4"/>
<line x1="609.5" y1="664.3" x2="625.5" y2="664.3" stroke="#ff2020" stroke-width="1.1"/>
<text x="625.8" y="656.5" font-size="10.2">Low(n=64)</text>
<text x="625.8" y="668.2" font-size="10.2">High(n=63)</text>
<text x="625.8" y="680.2" font-size="10.2">P = 0.026</text>
</svg>
</body></html>
